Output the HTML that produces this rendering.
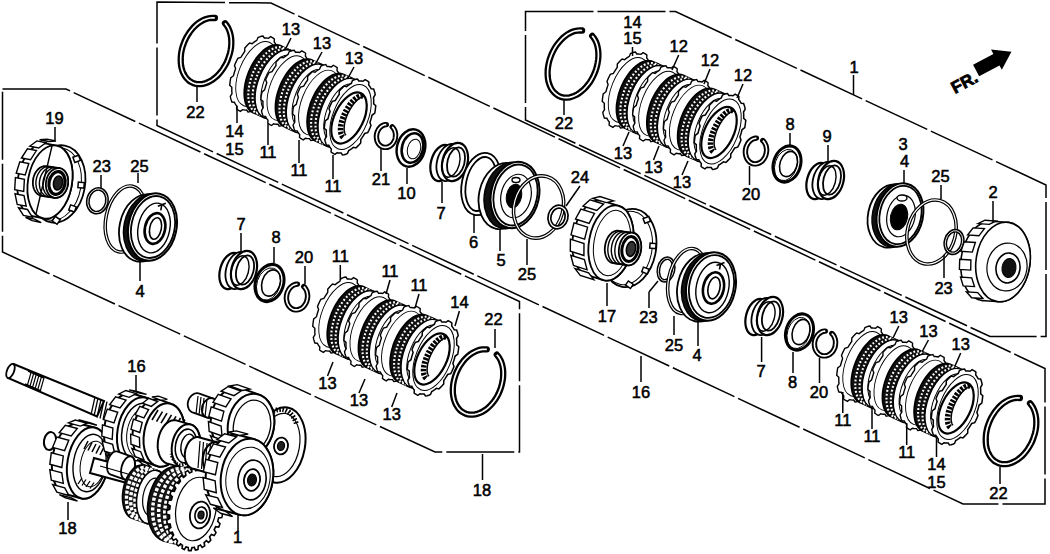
<!DOCTYPE html><html><head><meta charset="utf-8"><style>html,body{margin:0;padding:0;background:#fff;}svg{display:block;font-family:"Liberation Sans",sans-serif;}text{fill:#000;stroke:#000;stroke-width:0.55px;}</style></head><body>
<svg width="1050" height="554" viewBox="0 0 1050 554">
<rect width="1050" height="554" fill="#fff"/>
<polygon points="157.0,2.0 271.0,3.0 1045.0,368.5 1045.0,504.0 963.0,504.0 157.0,125.5" stroke="#000" stroke-width="1.5" fill="none" stroke-dasharray="68 4" stroke-linejoin="miter"/>
<polygon points="525.5,11.5 675.5,11.5 1046.0,185.0 1046.0,336.5 990.0,336.5 525.5,120.0" stroke="#000" stroke-width="1.5" fill="none" stroke-dasharray="68 4" stroke-linejoin="miter"/>
<polygon points="2.5,89.0 66.0,89.0 519.5,301.5 519.5,452.0 435.0,452.0 2.5,252.0" stroke="#000" stroke-width="1.5" fill="none" stroke-dasharray="68 4" stroke-linejoin="miter"/>
<path d="M225.0,23.3 L226.5,25.2 L227.9,27.3 L229.0,29.7 L229.9,32.2 L230.6,34.9 L231.1,37.8 L231.3,40.8 L231.3,43.9 L231.1,47.1 L230.6,50.3 L229.9,53.5 L228.9,56.6 L227.8,59.8 L226.5,62.8 L224.9,65.7 L223.2,68.5 L221.3,71.2 L219.3,73.6 L217.2,75.9 L214.9,77.9 L212.6,79.6 L210.2,81.1 L207.8,82.3 L205.3,83.2 L202.9,83.8 L200.5,84.1 L198.1,84.1 L195.9,83.8 L193.7,83.2 L191.6,82.3 L189.6,81.1 L187.9,79.6 L186.2,77.8 L184.8,75.8 L183.6,73.6 L182.5,71.2 L181.7,68.5 L181.1,65.7 L180.8,62.8 L180.7,59.7 L180.8,56.6 L181.1,53.4 L181.7,50.2 L182.5,47.0 L183.6,43.9 L184.8,40.8 L186.2,37.8 L187.9,34.9 L189.7,32.2 L191.6,29.7 L193.7,27.3 L195.9,25.2 L198.1,23.3 L200.5,21.7 L202.9,20.3 L205.4,19.2 L207.8,18.5 L210.2,18.0 L212.6,17.8 L214.9,18.0" stroke="#000" stroke-width="6.3" fill="none" stroke-linecap="round"/>
<path d="M225.0,23.3 L226.5,25.2 L227.9,27.3 L229.0,29.7 L229.9,32.2 L230.6,34.9 L231.1,37.8 L231.3,40.8 L231.3,43.9 L231.1,47.1 L230.6,50.3 L229.9,53.5 L228.9,56.6 L227.8,59.8 L226.5,62.8 L224.9,65.7 L223.2,68.5 L221.3,71.2 L219.3,73.6 L217.2,75.9 L214.9,77.9 L212.6,79.6 L210.2,81.1 L207.8,82.3 L205.3,83.2 L202.9,83.8 L200.5,84.1 L198.1,84.1 L195.9,83.8 L193.7,83.2 L191.6,82.3 L189.6,81.1 L187.9,79.6 L186.2,77.8 L184.8,75.8 L183.6,73.6 L182.5,71.2 L181.7,68.5 L181.1,65.7 L180.8,62.8 L180.7,59.7 L180.8,56.6 L181.1,53.4 L181.7,50.2 L182.5,47.0 L183.6,43.9 L184.8,40.8 L186.2,37.8 L187.9,34.9 L189.7,32.2 L191.6,29.7 L193.7,27.3 L195.9,25.2 L198.1,23.3 L200.5,21.7 L202.9,20.3 L205.4,19.2 L207.8,18.5 L210.2,18.0 L212.6,17.8 L214.9,18.0" stroke="#fff" stroke-width="1.7000000000000002" fill="none" />
<path d="M276.5,82.5 L275.5,84.9 L274.4,87.3 L273.2,89.6 L270.2,90.5 L268.9,92.6 L267.6,94.6 L266.3,96.5 L266.2,100.0 L264.6,101.8 L263.0,103.4 L261.4,105.0 L258.9,104.3 L257.3,105.6 L255.8,106.6 L254.2,107.6 L253.0,110.5 L251.3,111.2 L249.6,111.7 L248.0,112.0 L246.7,110.0 L245.2,110.1 L243.9,109.9 L242.5,109.7 L240.4,111.3 L239.1,110.6 L237.8,109.8 L236.6,108.9 L236.8,106.0 L235.9,104.9 L235.1,103.6 L234.3,102.2 L231.9,102.0 L231.3,100.3 L230.7,98.4 L230.3,96.4 L232.0,93.5 L231.8,91.5 L231.8,89.4 L231.8,87.2 L229.7,85.3 L230.0,82.9 L230.3,80.4 L230.7,77.9 L233.5,75.7 L234.1,73.3 L234.8,71.0 L235.6,68.6 L234.5,65.5 L235.5,63.1 L236.6,60.7 L237.8,58.4 L240.8,57.5 L242.1,55.4 L243.4,53.4 L244.7,51.5 L244.8,48.0 L246.4,46.2 L248.0,44.6 L249.6,43.0 L252.1,43.7 L253.7,42.4 L255.2,41.4 L256.8,40.4 L258.0,37.5 L259.7,36.8 L261.4,36.3 L263.0,36.0 L264.3,38.0 L265.8,37.9 L267.1,38.1 L268.5,38.3 L270.6,36.7 L271.9,37.4 L273.2,38.2 L274.4,39.1 L274.2,42.0 L275.1,43.1 L275.9,44.4 L276.7,45.8 L279.1,46.0 L279.7,47.7 L280.3,49.6 L280.7,51.6 L279.0,54.5 L279.2,56.5 L279.2,58.6 L279.2,60.8 L281.3,62.7 L281.0,65.1 L280.7,67.6 L280.3,70.1 L277.5,72.3 L276.9,74.7 L276.2,77.0 L275.4,79.4 L276.5,82.5Z" stroke="#000" stroke-width="1.4" fill="#fff" />
<ellipse cx="256.5" cy="74.0" rx="17.6" ry="34.2" transform="rotate(22 256.5 74.0)" stroke="#000" stroke-width="0.9" fill="#fff" />
<polygon points="244.3,92.4 244.4,89.6 244.8,86.7 245.2,83.8 245.9,80.8 246.7,77.8 247.7,74.8 248.8,71.9 250.0,69.0 251.4,66.2 252.9,63.5 254.5,60.9 256.2,58.4 258.0,56.1 259.8,54.0 261.7,52.1 263.6,50.3 265.6,48.8 267.6,47.6 269.5,46.5 271.5,45.7 273.4,45.2 275.2,44.9 277.0,44.9 278.7,45.2 280.4,45.7 282.2,46.5 285.8,48.2 291.2,50.6 292.8,51.4 294.2,52.4 295.4,53.7 296.6,55.1 297.6,56.9 298.4,58.8 299.1,60.9 299.7,63.1 300.0,65.6 300.2,68.2 300.3,70.9 300.1,73.7 299.8,76.6 299.3,79.5 298.6,82.5 297.8,85.5 296.9,88.5 295.8,91.4 294.5,94.3 293.1,97.1 291.6,99.8 290.1,102.4 288.4,104.9 286.6,107.2 284.7,109.3 282.9,111.2 280.9,112.9 278.9,114.4 277.0,115.7 275.0,116.7 273.1,117.5 271.2,118.0 269.3,118.3 267.5,118.3 265.8,118.1 264.2,117.6 255.1,113.5 253.3,112.6 251.8,111.9 250.4,110.9 249.1,109.6 248.0,108.1 246.9,106.4 246.1,104.5 245.4,102.4 244.9,100.1 244.5,97.7 244.3,95.1" stroke="#000" stroke-width="1.8" fill="#111" />
<ellipse cx="270.1" cy="80.6" rx="18.7" ry="35.3" transform="rotate(22 270.1 80.6)" stroke="#fff" stroke-width="2.1" fill="none" stroke-dasharray="1.8 2.0" stroke-dashoffset="0.0"/>
<ellipse cx="274.4" cy="82.6" rx="18.7" ry="35.3" transform="rotate(22 274.4 82.6)" stroke="#fff" stroke-width="2.1" fill="none" stroke-dasharray="1.8 2.0" stroke-dashoffset="1.7"/>
<ellipse cx="277.7" cy="84.1" rx="19.5" ry="36.1" transform="rotate(22 277.7 84.1)" stroke="#000" stroke-width="1.3" fill="#fff" />
<ellipse cx="278.7" cy="84.1" rx="14.8" ry="30.4" transform="rotate(22 278.7 84.1)" stroke="#000" stroke-width="1.0" fill="#fff" />
<path d="M307.7,96.7 L306.7,99.1 L305.6,101.5 L304.4,103.8 L301.4,104.7 L300.1,106.8 L298.8,108.8 L297.4,110.7 L297.4,114.2 L295.8,116.0 L294.2,117.6 L292.6,119.2 L290.1,118.5 L288.5,119.7 L287.0,120.8 L285.4,121.8 L284.2,124.7 L282.5,125.4 L280.8,125.9 L279.2,126.2 L277.9,124.2 L276.4,124.2 L275.1,124.1 L273.7,123.8 L271.6,125.5 L270.3,124.8 L269.0,124.0 L267.8,123.1 L268.0,120.2 L267.1,119.1 L266.3,117.8 L265.5,116.4 L263.1,116.2 L262.5,114.5 L261.9,112.6 L261.5,110.6 L263.2,107.7 L263.0,105.6 L262.9,103.5 L263.0,101.4 L260.9,99.5 L261.1,97.0 L261.5,94.6 L261.9,92.1 L264.6,89.9 L265.3,87.5 L266.0,85.2 L266.8,82.8 L265.6,79.7 L266.7,77.3 L267.8,74.9 L269.0,72.6 L272.0,71.7 L273.3,69.6 L274.6,67.6 L275.9,65.7 L276.0,62.2 L277.6,60.4 L279.2,58.8 L280.8,57.2 L283.3,57.8 L284.9,56.6 L286.4,55.6 L288.0,54.6 L289.2,51.7 L290.9,51.0 L292.5,50.5 L294.2,50.2 L295.5,52.2 L296.9,52.1 L298.3,52.3 L299.6,52.5 L301.7,50.9 L303.1,51.6 L304.4,52.3 L305.6,53.3 L305.4,56.1 L306.3,57.3 L307.1,58.6 L307.9,60.0 L310.3,60.2 L310.9,61.9 L311.4,63.8 L311.9,65.8 L310.2,68.7 L310.4,70.7 L310.4,72.8 L310.4,75.0 L312.4,76.9 L312.2,79.3 L311.9,81.8 L311.5,84.3 L308.7,86.5 L308.1,88.8 L307.4,91.2 L306.6,93.5 L307.7,96.7Z" stroke="#000" stroke-width="1.4" fill="#fff" />
<ellipse cx="287.7" cy="88.2" rx="17.6" ry="34.2" transform="rotate(22 287.7 88.2)" stroke="#000" stroke-width="0.9" fill="#fff" />
<polygon points="275.5,106.6 275.6,103.8 275.9,100.9 276.4,97.9 277.1,95.0 277.9,92.0 278.9,89.0 280.0,86.0 281.2,83.2 282.6,80.3 284.1,77.6 285.7,75.0 287.4,72.6 289.1,70.3 291.0,68.2 292.9,66.2 294.8,64.5 296.8,63.0 298.8,61.8 300.7,60.7 302.6,59.9 304.6,59.4 306.4,59.1 308.2,59.1 309.9,59.4 311.6,59.9 313.4,60.7 322.4,64.8 323.9,65.6 325.4,66.6 326.6,67.8 327.8,69.3 328.8,71.0 329.6,73.0 330.3,75.1 330.9,77.3 331.2,79.8 331.4,82.4 331.4,85.1 331.3,87.9 331.0,90.8 330.5,93.7 329.8,96.7 329.0,99.7 328.1,102.7 326.9,105.6 325.7,108.5 324.3,111.3 322.8,114.0 321.2,116.6 319.5,119.0 317.8,121.3 315.9,123.5 314.0,125.4 312.1,127.1 310.1,128.6 308.2,129.9 306.2,130.9 304.3,131.7 302.4,132.2 300.5,132.5 298.7,132.5 297.0,132.3 295.4,131.8 286.3,127.7 284.5,126.8 283.0,126.1 281.6,125.0 280.3,123.8 279.1,122.3 278.1,120.6 277.3,118.7 276.6,116.6 276.1,114.3 275.7,111.9 275.5,109.3" stroke="#000" stroke-width="1.8" fill="#111" />
<ellipse cx="301.3" cy="94.8" rx="18.7" ry="35.3" transform="rotate(22 301.3 94.8)" stroke="#fff" stroke-width="2.1" fill="none" stroke-dasharray="1.8 2.0" stroke-dashoffset="0.0"/>
<ellipse cx="305.6" cy="96.8" rx="18.7" ry="35.3" transform="rotate(22 305.6 96.8)" stroke="#fff" stroke-width="2.1" fill="none" stroke-dasharray="1.8 2.0" stroke-dashoffset="1.7"/>
<ellipse cx="308.9" cy="98.3" rx="19.5" ry="36.1" transform="rotate(22 308.9 98.3)" stroke="#000" stroke-width="1.3" fill="#fff" />
<ellipse cx="309.9" cy="98.3" rx="14.8" ry="30.4" transform="rotate(22 309.9 98.3)" stroke="#000" stroke-width="1.0" fill="#fff" />
<path d="M339.4,111.1 L338.4,113.5 L337.2,115.9 L336.0,118.2 L333.0,119.1 L331.8,121.2 L330.5,123.2 L329.1,125.1 L329.0,128.6 L327.5,130.4 L325.9,132.0 L324.2,133.6 L321.7,132.9 L320.2,134.1 L318.6,135.2 L317.1,136.2 L315.8,139.1 L314.1,139.8 L312.5,140.3 L310.8,140.6 L309.5,138.6 L308.1,138.6 L306.7,138.5 L305.4,138.3 L303.3,139.9 L301.9,139.2 L300.7,138.4 L299.5,137.5 L299.7,134.6 L298.8,133.5 L297.9,132.2 L297.2,130.8 L294.8,130.6 L294.1,128.9 L293.6,127.0 L293.1,125.0 L294.8,122.1 L294.7,120.1 L294.6,118.0 L294.6,115.8 L292.6,113.9 L292.8,111.5 L293.1,109.0 L293.6,106.5 L296.3,104.3 L296.9,101.9 L297.6,99.6 L298.4,97.2 L297.3,94.1 L298.3,91.7 L299.4,89.3 L300.6,87.0 L303.7,86.1 L304.9,84.0 L306.2,82.0 L307.6,80.1 L307.6,76.6 L309.2,74.8 L310.8,73.2 L312.4,71.6 L315.0,72.3 L316.5,71.0 L318.1,70.0 L319.6,69.0 L320.9,66.1 L322.5,65.4 L324.2,64.9 L325.8,64.6 L327.2,66.6 L328.6,66.5 L330.0,66.7 L331.3,66.9 L333.4,65.3 L334.7,66.0 L336.0,66.8 L337.2,67.7 L337.0,70.6 L337.9,71.7 L338.8,73.0 L339.5,74.4 L341.9,74.6 L342.6,76.3 L343.1,78.2 L343.5,80.2 L341.8,83.1 L342.0,85.1 L342.1,87.2 L342.1,89.4 L344.1,91.3 L343.9,93.7 L343.6,96.2 L343.1,98.7 L340.4,100.9 L339.8,103.3 L339.0,105.6 L338.2,108.0 L339.4,111.1Z" stroke="#000" stroke-width="1.4" fill="#fff" />
<ellipse cx="319.3" cy="102.6" rx="17.6" ry="34.2" transform="rotate(22 319.3 102.6)" stroke="#000" stroke-width="0.9" fill="#fff" />
<polygon points="307.1,121.0 307.3,118.2 307.6,115.3 308.1,112.3 308.7,109.4 309.6,106.4 310.5,103.4 311.6,100.5 312.9,97.6 314.2,94.8 315.7,92.0 317.3,89.5 319.0,87.0 320.8,84.7 322.6,82.6 324.5,80.7 326.5,78.9 328.4,77.4 330.4,76.2 332.4,75.1 334.3,74.3 336.2,73.8 338.1,73.5 339.9,73.5 341.6,73.8 343.2,74.3 352.3,78.4 354.1,79.2 355.6,80.0 357.0,81.0 358.3,82.3 359.4,83.7 360.4,85.5 361.3,87.4 362.0,89.5 362.5,91.8 362.9,94.2 363.1,96.8 363.1,99.5 362.9,102.3 362.6,105.2 362.1,108.1 361.5,111.1 360.7,114.1 359.7,117.0 358.6,120.0 357.4,122.9 356.0,125.7 354.5,128.4 352.9,131.0 351.2,133.5 349.4,135.8 347.6,137.9 345.7,139.8 343.8,141.5 341.8,143.0 339.8,144.3 337.9,145.3 335.9,146.1 334.0,146.7 332.2,146.9 330.4,146.9 328.6,146.7 327.0,146.2 325.2,145.3 321.6,143.7 316.2,141.2 314.6,140.5 313.2,139.4 311.9,138.2 310.8,136.7 309.8,135.0 308.9,133.1 308.2,131.0 307.7,128.7 307.4,126.3 307.2,123.7" stroke="#000" stroke-width="1.8" fill="#111" />
<ellipse cx="332.9" cy="109.2" rx="18.7" ry="35.3" transform="rotate(22 332.9 109.2)" stroke="#fff" stroke-width="2.1" fill="none" stroke-dasharray="1.8 2.0" stroke-dashoffset="0.0"/>
<ellipse cx="337.3" cy="111.2" rx="18.7" ry="35.3" transform="rotate(22 337.3 111.2)" stroke="#fff" stroke-width="2.1" fill="none" stroke-dasharray="1.8 2.0" stroke-dashoffset="1.7"/>
<ellipse cx="340.6" cy="112.7" rx="19.5" ry="36.1" transform="rotate(22 340.6 112.7)" stroke="#000" stroke-width="1.3" fill="#fff" />
<ellipse cx="341.6" cy="112.7" rx="14.8" ry="30.4" transform="rotate(22 341.6 112.7)" stroke="#000" stroke-width="1.0" fill="#fff" />
<path d="M371.0,125.5 L370.0,127.9 L368.9,130.3 L367.7,132.6 L364.7,133.5 L363.4,135.6 L362.1,137.6 L360.8,139.5 L360.7,143.0 L359.1,144.8 L357.5,146.4 L355.9,148.0 L353.4,147.3 L351.8,148.6 L350.3,149.6 L348.7,150.6 L347.5,153.5 L345.8,154.2 L344.1,154.7 L342.5,155.0 L341.2,153.0 L339.7,153.1 L338.4,152.9 L337.0,152.7 L334.9,154.3 L333.6,153.6 L332.3,152.8 L331.1,151.9 L331.3,149.0 L330.4,147.9 L329.6,146.6 L328.8,145.2 L326.4,145.0 L325.8,143.3 L325.2,141.4 L324.8,139.4 L326.5,136.5 L326.3,134.5 L326.3,132.4 L326.3,130.2 L324.2,128.3 L324.5,125.9 L324.8,123.4 L325.2,120.9 L328.0,118.7 L328.6,116.3 L329.3,114.0 L330.1,111.6 L329.0,108.5 L330.0,106.1 L331.1,103.7 L332.3,101.4 L335.3,100.5 L336.6,98.4 L337.9,96.4 L339.2,94.5 L339.3,91.0 L340.9,89.2 L342.5,87.6 L344.1,86.0 L346.6,86.7 L348.2,85.4 L349.7,84.4 L351.3,83.4 L352.5,80.5 L354.2,79.8 L355.9,79.3 L357.5,79.0 L358.8,81.0 L360.3,80.9 L361.6,81.1 L363.0,81.3 L365.1,79.7 L366.4,80.4 L367.7,81.2 L368.9,82.1 L368.7,85.0 L369.6,86.1 L370.4,87.4 L371.2,88.8 L373.6,89.0 L374.2,90.7 L374.8,92.6 L375.2,94.6 L373.5,97.5 L373.7,99.5 L373.7,101.6 L373.7,103.8 L375.8,105.7 L375.5,108.1 L375.2,110.6 L374.8,113.1 L372.0,115.3 L371.4,117.7 L370.7,120.0 L369.9,122.4 L371.0,125.5Z" stroke="#000" stroke-width="1.5" fill="#fff" />
<ellipse cx="350.5" cy="117.0" rx="17.6" ry="34.2" transform="rotate(22 350.5 117.0)" stroke="#000" stroke-width="1.0" fill="none" />
<ellipse cx="349.0" cy="118.0" rx="14.5" ry="27.5" transform="rotate(26 349.0 118.0)" stroke="#000" stroke-width="2.2" fill="#fff" />
<path d="M343.2,137.2 L342.6,136.7 L342.1,136.1 L341.7,135.4 L341.3,134.5 L341.0,133.6 L340.8,132.6 L340.6,131.5 L340.5,130.3 L340.5,129.1 L340.6,127.7 L340.7,126.4 L340.9,124.9 L341.2,123.5 L341.5,121.9 L342.0,120.4 L342.5,118.9 L343.0,117.3 L343.6,115.7 L344.3,114.2 L345.0,112.6 L345.8,111.1 L346.6,109.6 L347.5,108.2 L348.4,106.8 L349.3,105.4 L350.2,104.1 L351.2,102.9 L352.2,101.8 L353.2,100.8 L354.2,99.8 L355.2,98.9 L356.2,98.2 L357.2,97.5 L358.1,97.0 L359.1,96.5 L360.0,96.2 L360.9,96.0 L361.7,95.9 L362.5,95.9 L363.3,96.0" stroke="#000" stroke-width="5.5" fill="none" stroke-dasharray="2.5 1.3"/>
<path d="M346.0,135.2 L345.6,134.7 L345.2,134.0 L344.9,133.3 L344.6,132.4 L344.4,131.5 L344.2,130.6 L344.1,129.5 L344.1,128.4 L344.2,127.2 L344.3,126.0 L344.4,124.8 L344.6,123.4 L344.9,122.1 L345.3,120.7 L345.7,119.3 L346.1,117.9 L346.6,116.5 L347.2,115.1 L347.8,113.7 L348.5,112.3 L349.2,111.0 L349.9,109.6 L350.7,108.3 L351.5,107.0 L352.3,105.8 L353.1,104.7 L354.0,103.5 L354.9,102.5 L355.8,101.5 L356.7,100.6 L357.6,99.8 L358.5,99.0 L359.3,98.4 L360.2,97.8 L361.1,97.3 L361.9,96.9 L362.7,96.6 L363.5,96.4 L364.3,96.3 L365.0,96.3" stroke="#000" stroke-width="1.5" fill="none" />
<path d="M392.2,126.8 L392.8,127.4 L393.4,128.2 L393.9,129.0 L394.4,129.9 L394.8,130.8 L395.1,131.8 L395.3,132.8 L395.5,133.9 L395.6,134.9 L395.5,136.0 L395.4,137.1 L395.3,138.1 L395.0,139.2 L394.7,140.2 L394.2,141.2 L393.7,142.1 L393.2,143.0 L392.6,143.8 L391.9,144.5 L391.2,145.2 L390.4,145.8 L389.6,146.3 L388.7,146.7 L387.9,147.1 L387.0,147.3 L386.1,147.4 L385.2,147.4 L384.3,147.4 L383.4,147.2 L382.6,146.9 L381.7,146.6 L381.0,146.1 L380.2,145.6 L379.5,144.9 L378.9,144.2 L378.3,143.4 L377.8,142.6 L377.4,141.7 L377.0,140.7 L376.8,139.7 L376.6,138.7 L376.5,137.7 L376.4,136.6 L376.5,135.5 L376.6,134.4 L376.8,133.4 L377.1,132.4 L377.5,131.4 L378.0,130.4 L378.5,129.5 L379.1,128.6 L379.7,127.9 L380.4,127.1 L381.2,126.5 L382.0,125.9 L382.8,125.5 L383.7,125.1 L384.6,124.8 L385.4,124.6 L386.3,124.6" stroke="#000" stroke-width="5.4" fill="none" stroke-linecap="round"/>
<path d="M392.2,126.8 L392.8,127.4 L393.4,128.2 L393.9,129.0 L394.4,129.9 L394.8,130.8 L395.1,131.8 L395.3,132.8 L395.5,133.9 L395.6,134.9 L395.5,136.0 L395.4,137.1 L395.3,138.1 L395.0,139.2 L394.7,140.2 L394.2,141.2 L393.7,142.1 L393.2,143.0 L392.6,143.8 L391.9,144.5 L391.2,145.2 L390.4,145.8 L389.6,146.3 L388.7,146.7 L387.9,147.1 L387.0,147.3 L386.1,147.4 L385.2,147.4 L384.3,147.4 L383.4,147.2 L382.6,146.9 L381.7,146.6 L381.0,146.1 L380.2,145.6 L379.5,144.9 L378.9,144.2 L378.3,143.4 L377.8,142.6 L377.4,141.7 L377.0,140.7 L376.8,139.7 L376.6,138.7 L376.5,137.7 L376.4,136.6 L376.5,135.5 L376.6,134.4 L376.8,133.4 L377.1,132.4 L377.5,131.4 L378.0,130.4 L378.5,129.5 L379.1,128.6 L379.7,127.9 L380.4,127.1 L381.2,126.5 L382.0,125.9 L382.8,125.5 L383.7,125.1 L384.6,124.8 L385.4,124.6 L386.3,124.6" stroke="#fff" stroke-width="1.6000000000000005" fill="none" />
<ellipse cx="411.0" cy="148.0" rx="14.0" ry="19.0" transform="rotate(15 411.0 148.0)" stroke="#000" stroke-width="2.4" fill="#fff" />
<ellipse cx="412.5" cy="148.0" rx="10.5" ry="15.0" transform="rotate(15 412.5 148.0)" stroke="#000" stroke-width="2.6" fill="none" />
<ellipse cx="414.0" cy="149.0" rx="6.5" ry="10.0" transform="rotate(15 414.0 149.0)" stroke="#000" stroke-width="1.0" fill="none" />
<ellipse cx="442.0" cy="163.0" rx="11.0" ry="18.5" transform="rotate(15 442.0 163.0)" stroke="#000" stroke-width="2.2" fill="#fff" />
<ellipse cx="449.0" cy="162.5" rx="12.0" ry="19.0" transform="rotate(15 449.0 162.5)" stroke="#000" stroke-width="1.8" fill="#fff" />
<ellipse cx="455.0" cy="162.0" rx="12.5" ry="19.5" transform="rotate(15 455.0 162.0)" stroke="#000" stroke-width="2.2" fill="#fff" />
<ellipse cx="456.0" cy="162.0" rx="8.5" ry="15.0" transform="rotate(15 456.0 162.0)" stroke="#000" stroke-width="1.8" fill="none" />
<ellipse cx="451.0" cy="162.5" rx="8.5" ry="15.0" transform="rotate(15 451.0 162.5)" stroke="#000" stroke-width="1.4" fill="none" />
<ellipse cx="481.0" cy="184.0" rx="17.0" ry="29.5" transform="rotate(12 481.0 184.0)" stroke="#000" stroke-width="6.0" fill="none" />
<ellipse cx="481.0" cy="184.0" rx="17.0" ry="29.5" transform="rotate(12 481.0 184.0)" stroke="#fff" stroke-width="2.4" fill="none" />
<ellipse cx="503.0" cy="196.0" rx="24.0" ry="33.5" transform="rotate(12 503.0 196.0)" stroke="#000" stroke-width="1.8" fill="#fff" />
<ellipse cx="508.5" cy="195.5" rx="24.0" ry="33.5" transform="rotate(12 508.5 195.5)" stroke="#000" stroke-width="1.5" fill="#111" />
<ellipse cx="515.0" cy="195.0" rx="24.0" ry="33.5" transform="rotate(12 515.0 195.0)" stroke="#000" stroke-width="2.0" fill="#fff" />
<ellipse cx="515.5" cy="195.0" rx="21.6" ry="30.8" transform="rotate(12 515.5 195.0)" stroke="#000" stroke-width="1.8" fill="none" />
<ellipse cx="516.0" cy="196.0" rx="15.0" ry="22.0" transform="rotate(12 516.0 196.0)" stroke="#000" stroke-width="1.2" fill="none" />
<ellipse cx="514.0" cy="196.0" rx="7.5" ry="12.0" transform="rotate(12 514.0 196.0)" stroke="#000" stroke-width="1" fill="#000" />
<ellipse cx="516.0" cy="180.0" rx="4.0" ry="2.5" transform="rotate(0 516.0 180.0)" stroke="#000" stroke-width="1.4" fill="#fff" />
<ellipse cx="538.6" cy="207.0" rx="24.5" ry="31.5" transform="rotate(15 538.6 207.0)" stroke="#000" stroke-width="3.6" fill="none" />
<ellipse cx="538.6" cy="207.0" rx="24.5" ry="31.5" transform="rotate(15 538.6 207.0)" stroke="#fff" stroke-width="1.2" fill="none" />
<ellipse cx="558.0" cy="217.0" rx="8.5" ry="10.5" transform="rotate(15 558.0 217.0)" stroke="#000" stroke-width="4.6" fill="none" />
<ellipse cx="558.0" cy="217.0" rx="8.5" ry="10.5" transform="rotate(15 558.0 217.0)" stroke="#fff" stroke-width="1.2" fill="none" />
<path d="M592.2,35.9 L593.7,37.8 L595.0,39.9 L596.2,42.3 L597.1,44.9 L597.7,47.6 L598.2,50.5 L598.4,53.6 L598.4,56.7 L598.1,59.9 L597.6,63.1 L596.9,66.4 L596.0,69.6 L594.8,72.8 L593.4,75.9 L591.9,78.8 L590.2,81.7 L588.3,84.3 L586.2,86.8 L584.1,89.1 L581.8,91.1 L579.5,92.9 L577.1,94.5 L574.6,95.7 L572.2,96.6 L569.7,97.3 L567.3,97.6 L565.0,97.6 L562.7,97.3 L560.5,96.7 L558.4,95.8 L556.5,94.5 L554.7,93.0 L553.1,91.3 L551.6,89.3 L550.4,87.0 L549.4,84.5 L548.6,81.9 L548.0,79.0 L547.7,76.1 L547.6,73.0 L547.7,69.8 L548.1,66.6 L548.7,63.3 L549.5,60.1 L550.6,56.9 L551.8,53.8 L553.3,50.7 L554.9,47.8 L556.7,45.0 L558.7,42.5 L560.8,40.1 L563.0,37.9 L565.3,36.0 L567.6,34.3 L570.1,32.9 L572.5,31.8 L575.0,31.0 L577.4,30.6 L579.8,30.4 L582.1,30.5" stroke="#000" stroke-width="6.3" fill="none" stroke-linecap="round"/>
<path d="M592.2,35.9 L593.7,37.8 L595.0,39.9 L596.2,42.3 L597.1,44.9 L597.7,47.6 L598.2,50.5 L598.4,53.6 L598.4,56.7 L598.1,59.9 L597.6,63.1 L596.9,66.4 L596.0,69.6 L594.8,72.8 L593.4,75.9 L591.9,78.8 L590.2,81.7 L588.3,84.3 L586.2,86.8 L584.1,89.1 L581.8,91.1 L579.5,92.9 L577.1,94.5 L574.6,95.7 L572.2,96.6 L569.7,97.3 L567.3,97.6 L565.0,97.6 L562.7,97.3 L560.5,96.7 L558.4,95.8 L556.5,94.5 L554.7,93.0 L553.1,91.3 L551.6,89.3 L550.4,87.0 L549.4,84.5 L548.6,81.9 L548.0,79.0 L547.7,76.1 L547.6,73.0 L547.7,69.8 L548.1,66.6 L548.7,63.3 L549.5,60.1 L550.6,56.9 L551.8,53.8 L553.3,50.7 L554.9,47.8 L556.7,45.0 L558.7,42.5 L560.8,40.1 L563.0,37.9 L565.3,36.0 L567.6,34.3 L570.1,32.9 L572.5,31.8 L575.0,31.0 L577.4,30.6 L579.8,30.4 L582.1,30.5" stroke="#fff" stroke-width="1.7000000000000002" fill="none" />
<path d="M649.0,98.5 L648.0,100.9 L646.9,103.3 L645.7,105.6 L642.7,106.5 L641.4,108.6 L640.1,110.6 L638.8,112.5 L638.7,116.0 L637.1,117.8 L635.5,119.4 L633.9,121.0 L631.4,120.3 L629.8,121.6 L628.3,122.6 L626.7,123.6 L625.5,126.5 L623.8,127.2 L622.1,127.7 L620.5,128.0 L619.2,126.0 L617.7,126.1 L616.4,125.9 L615.0,125.7 L612.9,127.3 L611.6,126.6 L610.3,125.8 L609.1,124.9 L609.3,122.0 L608.4,120.9 L607.6,119.6 L606.8,118.2 L604.4,118.0 L603.8,116.3 L603.2,114.4 L602.8,112.4 L604.5,109.5 L604.3,107.5 L604.3,105.4 L604.3,103.2 L602.2,101.3 L602.5,98.9 L602.8,96.4 L603.2,93.9 L606.0,91.7 L606.6,89.3 L607.3,87.0 L608.1,84.6 L607.0,81.5 L608.0,79.1 L609.1,76.7 L610.3,74.4 L613.3,73.5 L614.6,71.4 L615.9,69.4 L617.2,67.5 L617.3,64.0 L618.9,62.2 L620.5,60.6 L622.1,59.0 L624.6,59.7 L626.2,58.4 L627.7,57.4 L629.3,56.4 L630.5,53.5 L632.2,52.8 L633.9,52.3 L635.5,52.0 L636.8,54.0 L638.3,53.9 L639.6,54.1 L641.0,54.3 L643.1,52.7 L644.4,53.4 L645.7,54.2 L646.9,55.1 L646.7,58.0 L647.6,59.1 L648.4,60.4 L649.2,61.8 L651.6,62.0 L652.2,63.7 L652.8,65.6 L653.2,67.6 L651.5,70.5 L651.7,72.5 L651.7,74.6 L651.7,76.8 L653.8,78.7 L653.5,81.1 L653.2,83.6 L652.8,86.1 L650.0,88.3 L649.4,90.7 L648.7,93.0 L647.9,95.4 L649.0,98.5Z" stroke="#000" stroke-width="1.4" fill="#fff" />
<ellipse cx="629.0" cy="90.0" rx="17.6" ry="34.2" transform="rotate(22 629.0 90.0)" stroke="#000" stroke-width="0.9" fill="#fff" />
<polygon points="616.5,108.2 616.6,105.4 617.0,102.5 617.5,99.6 618.1,96.6 618.9,93.6 619.9,90.6 621.0,87.7 622.2,84.8 623.6,82.0 625.1,79.3 626.7,76.7 628.4,74.2 630.2,71.9 632.0,69.8 633.9,67.9 635.8,66.2 637.8,64.7 639.8,63.4 641.7,62.4 643.7,61.6 645.6,61.0 647.4,60.8 649.2,60.8 650.9,61.0 652.6,61.5 654.3,62.3 657.9,63.9 663.1,66.3 664.7,67.0 666.1,68.1 667.4,69.3 668.5,70.8 669.5,72.5 670.4,74.4 671.0,76.5 671.6,78.8 672.0,81.2 672.1,83.8 672.2,86.5 672.0,89.3 671.7,92.2 671.2,95.2 670.6,98.1 669.8,101.1 668.8,104.1 667.7,107.0 666.4,109.9 665.0,112.8 663.6,115.5 662.0,118.1 660.3,120.5 658.5,122.8 656.6,124.9 654.8,126.9 652.8,128.6 650.9,130.1 648.9,131.4 646.9,132.4 645.0,133.2 643.1,133.7 641.2,134.0 639.4,134.0 637.7,133.7 636.1,133.2 634.3,132.4 627.3,129.2 625.5,128.4 624.0,127.7 622.6,126.7 621.3,125.4 620.2,123.9 619.1,122.2 618.3,120.3 617.6,118.2 617.1,115.9 616.7,113.5 616.5,110.9" stroke="#000" stroke-width="1.8" fill="#111" />
<ellipse cx="642.2" cy="96.4" rx="18.7" ry="35.3" transform="rotate(22 642.2 96.4)" stroke="#fff" stroke-width="2.1" fill="none" stroke-dasharray="1.8 2.0" stroke-dashoffset="0.0"/>
<ellipse cx="646.4" cy="98.3" rx="18.7" ry="35.3" transform="rotate(22 646.4 98.3)" stroke="#fff" stroke-width="2.1" fill="none" stroke-dasharray="1.8 2.0" stroke-dashoffset="1.7"/>
<ellipse cx="649.6" cy="99.8" rx="19.5" ry="36.1" transform="rotate(22 649.6 99.8)" stroke="#000" stroke-width="1.3" fill="#fff" />
<ellipse cx="650.6" cy="99.8" rx="14.8" ry="30.4" transform="rotate(22 650.6 99.8)" stroke="#000" stroke-width="1.0" fill="#fff" />
<path d="M679.4,112.2 L678.4,114.6 L677.3,117.0 L676.1,119.3 L673.0,120.2 L671.8,122.3 L670.5,124.3 L669.1,126.2 L669.1,129.7 L667.5,131.5 L665.9,133.1 L664.3,134.7 L661.7,134.0 L660.2,135.2 L658.6,136.3 L657.1,137.3 L655.8,140.2 L654.2,140.9 L652.5,141.4 L650.9,141.7 L649.5,139.7 L648.1,139.7 L646.7,139.6 L645.4,139.4 L643.3,141.0 L642.0,140.3 L640.7,139.5 L639.5,138.6 L639.7,135.7 L638.8,134.6 L637.9,133.3 L637.2,131.9 L634.8,131.7 L634.1,130.0 L633.6,128.1 L633.2,126.1 L634.9,123.2 L634.7,121.2 L634.6,119.1 L634.6,116.9 L632.6,115.0 L632.8,112.6 L633.2,110.1 L633.6,107.6 L636.3,105.4 L636.9,103.0 L637.7,100.7 L638.5,98.3 L637.3,95.2 L638.3,92.8 L639.5,90.4 L640.7,88.1 L643.7,87.2 L644.9,85.1 L646.2,83.1 L647.6,81.2 L647.7,77.7 L649.2,75.9 L650.8,74.3 L652.5,72.7 L655.0,73.4 L656.5,72.1 L658.1,71.1 L659.6,70.1 L660.9,67.2 L662.6,66.5 L664.2,66.0 L665.9,65.7 L667.2,67.7 L668.6,67.6 L670.0,67.8 L671.3,68.0 L673.4,66.4 L674.8,67.1 L676.0,67.9 L677.2,68.8 L677.0,71.7 L677.9,72.8 L678.8,74.1 L679.5,75.5 L681.9,75.7 L682.6,77.4 L683.1,79.3 L683.6,81.3 L681.9,84.2 L682.0,86.2 L682.1,88.3 L682.1,90.5 L684.1,92.4 L683.9,94.8 L683.6,97.3 L683.1,99.8 L680.4,102.0 L679.8,104.4 L679.1,106.7 L678.3,109.1 L679.4,112.2Z" stroke="#000" stroke-width="1.4" fill="#fff" />
<ellipse cx="659.4" cy="103.7" rx="17.6" ry="34.2" transform="rotate(22 659.4 103.7)" stroke="#000" stroke-width="0.9" fill="#fff" />
<polygon points="646.9,121.9 647.0,119.1 647.3,116.2 647.8,113.3 648.5,110.3 649.3,107.3 650.2,104.3 651.3,101.4 652.6,98.5 654.0,95.7 655.5,93.0 657.1,90.4 658.8,87.9 660.5,85.6 662.4,83.5 664.3,81.6 666.2,79.8 668.1,78.3 670.1,77.1 672.1,76.0 674.0,75.3 675.9,74.7 677.8,74.5 679.6,74.5 681.3,74.7 682.9,75.2 686.5,76.8 691.7,79.2 693.5,80.0 695.0,80.7 696.4,81.8 697.7,83.0 698.9,84.5 699.9,86.2 700.7,88.1 701.4,90.2 702.0,92.5 702.3,94.9 702.5,97.5 702.5,100.2 702.4,103.0 702.1,105.9 701.6,108.9 700.9,111.8 700.1,114.8 699.1,117.8 698.0,120.7 696.8,123.6 695.4,126.4 693.9,129.2 692.3,131.8 690.6,134.2 688.9,136.5 687.0,138.6 685.1,140.6 683.2,142.3 681.2,143.8 679.3,145.1 677.3,146.1 675.4,146.9 673.5,147.4 671.6,147.7 669.8,147.7 668.1,147.4 666.5,146.9 662.9,145.3 659.4,143.7 655.9,142.2 654.4,141.4 653.0,140.4 651.7,139.1 650.5,137.6 649.5,135.9 648.7,134.0 648.0,131.9 647.4,129.6 647.1,127.2 646.9,124.6" stroke="#000" stroke-width="1.8" fill="#111" />
<ellipse cx="672.6" cy="110.1" rx="18.7" ry="35.3" transform="rotate(22 672.6 110.1)" stroke="#fff" stroke-width="2.1" fill="none" stroke-dasharray="1.8 2.0" stroke-dashoffset="0.0"/>
<ellipse cx="676.8" cy="112.0" rx="18.7" ry="35.3" transform="rotate(22 676.8 112.0)" stroke="#fff" stroke-width="2.1" fill="none" stroke-dasharray="1.8 2.0" stroke-dashoffset="1.7"/>
<ellipse cx="680.0" cy="113.4" rx="19.5" ry="36.1" transform="rotate(22 680.0 113.4)" stroke="#000" stroke-width="1.3" fill="#fff" />
<ellipse cx="681.0" cy="113.4" rx="14.8" ry="30.4" transform="rotate(22 681.0 113.4)" stroke="#000" stroke-width="1.0" fill="#fff" />
<path d="M710.2,126.1 L709.2,128.5 L708.1,130.9 L706.9,133.2 L703.9,134.1 L702.6,136.2 L701.3,138.2 L699.9,140.1 L699.9,143.6 L698.3,145.4 L696.7,147.0 L695.1,148.6 L692.6,147.9 L691.0,149.2 L689.5,150.2 L687.9,151.2 L686.7,154.1 L685.0,154.8 L683.3,155.3 L681.7,155.6 L680.3,153.6 L678.9,153.7 L677.5,153.5 L676.2,153.3 L674.1,154.9 L672.8,154.2 L671.5,153.4 L670.3,152.5 L670.5,149.6 L669.6,148.5 L668.8,147.2 L668.0,145.8 L665.6,145.6 L665.0,143.9 L664.4,142.0 L664.0,140.0 L665.7,137.1 L665.5,135.1 L665.4,133.0 L665.5,130.8 L663.4,128.9 L663.6,126.5 L664.0,124.0 L664.4,121.5 L667.1,119.3 L667.8,116.9 L668.5,114.6 L669.3,112.2 L668.1,109.1 L669.2,106.7 L670.3,104.3 L671.5,102.0 L674.5,101.1 L675.8,99.0 L677.1,97.0 L678.4,95.1 L678.5,91.6 L680.0,89.8 L681.6,88.2 L683.3,86.6 L685.8,87.3 L687.4,86.0 L688.9,85.0 L690.5,84.0 L691.7,81.1 L693.4,80.4 L695.0,79.9 L696.7,79.6 L698.0,81.6 L699.4,81.5 L700.8,81.7 L702.1,81.9 L704.2,80.3 L705.6,81.0 L706.9,81.8 L708.1,82.7 L707.8,85.6 L708.8,86.7 L709.6,88.0 L710.4,89.4 L712.7,89.6 L713.4,91.3 L713.9,93.2 L714.4,95.2 L712.7,98.1 L712.9,100.1 L712.9,102.2 L712.9,104.4 L714.9,106.3 L714.7,108.7 L714.4,111.2 L714.0,113.7 L711.2,115.9 L710.6,118.3 L709.9,120.6 L709.1,123.0 L710.2,126.1Z" stroke="#000" stroke-width="1.4" fill="#fff" />
<ellipse cx="690.2" cy="117.6" rx="17.6" ry="34.2" transform="rotate(22 690.2 117.6)" stroke="#000" stroke-width="0.9" fill="#fff" />
<polygon points="677.7,135.8 677.8,133.0 678.1,130.1 678.6,127.2 679.3,124.2 680.1,121.2 681.0,118.2 682.2,115.3 683.4,112.4 684.8,109.6 686.3,106.9 687.9,104.3 689.6,101.8 691.3,99.5 693.2,97.4 695.1,95.5 697.0,93.8 699.0,92.2 700.9,91.0 702.9,89.9 704.9,89.2 706.8,88.6 708.6,88.4 710.4,88.3 712.1,88.6 713.7,89.1 715.5,89.9 722.6,93.1 724.3,93.9 725.9,94.6 727.2,95.7 728.5,96.9 729.7,98.4 730.7,100.1 731.5,102.0 732.2,104.1 732.8,106.4 733.1,108.8 733.3,111.4 733.4,114.1 733.2,116.9 732.9,119.8 732.4,122.8 731.7,125.7 730.9,128.7 730.0,131.7 728.9,134.7 727.6,137.5 726.2,140.3 724.7,143.1 723.1,145.7 721.5,148.1 719.7,150.4 717.8,152.5 715.9,154.4 714.0,156.2 712.0,157.7 710.1,158.9 708.1,160.0 706.2,160.8 704.3,161.3 702.4,161.6 700.6,161.6 698.9,161.3 697.3,160.8 695.5,160.0 692.0,158.4 686.7,156.1 685.2,155.3 683.8,154.3 682.5,153.0 681.3,151.5 680.3,149.8 679.5,147.9 678.8,145.8 678.2,143.5 677.9,141.1 677.7,138.5" stroke="#000" stroke-width="1.8" fill="#111" />
<ellipse cx="703.4" cy="124.0" rx="18.7" ry="35.3" transform="rotate(22 703.4 124.0)" stroke="#fff" stroke-width="2.1" fill="none" stroke-dasharray="1.8 2.0" stroke-dashoffset="0.0"/>
<ellipse cx="707.6" cy="125.9" rx="18.7" ry="35.3" transform="rotate(22 707.6 125.9)" stroke="#fff" stroke-width="2.1" fill="none" stroke-dasharray="1.8 2.0" stroke-dashoffset="1.7"/>
<ellipse cx="710.8" cy="127.3" rx="19.5" ry="36.1" transform="rotate(22 710.8 127.3)" stroke="#000" stroke-width="1.3" fill="#fff" />
<ellipse cx="711.8" cy="127.3" rx="14.8" ry="30.4" transform="rotate(22 711.8 127.3)" stroke="#000" stroke-width="1.0" fill="#fff" />
<path d="M741.0,140.0 L740.0,142.4 L738.9,144.8 L737.7,147.1 L734.7,148.0 L733.4,150.1 L732.1,152.1 L730.8,154.0 L730.7,157.5 L729.1,159.3 L727.5,160.9 L725.9,162.5 L723.4,161.8 L721.8,163.1 L720.3,164.1 L718.7,165.1 L717.5,168.0 L715.8,168.7 L714.1,169.2 L712.5,169.5 L711.2,167.5 L709.7,167.6 L708.4,167.4 L707.0,167.2 L704.9,168.8 L703.6,168.1 L702.3,167.3 L701.1,166.4 L701.3,163.5 L700.4,162.4 L699.6,161.1 L698.8,159.7 L696.4,159.5 L695.8,157.8 L695.2,155.9 L694.8,153.9 L696.5,151.0 L696.3,149.0 L696.3,146.9 L696.3,144.7 L694.2,142.8 L694.5,140.4 L694.8,137.9 L695.2,135.4 L698.0,133.2 L698.6,130.8 L699.3,128.5 L700.1,126.1 L699.0,123.0 L700.0,120.6 L701.1,118.2 L702.3,115.9 L705.3,115.0 L706.6,112.9 L707.9,110.9 L709.2,109.0 L709.3,105.5 L710.9,103.7 L712.5,102.1 L714.1,100.5 L716.6,101.2 L718.2,99.9 L719.7,98.9 L721.3,97.9 L722.5,95.0 L724.2,94.3 L725.9,93.8 L727.5,93.5 L728.8,95.5 L730.3,95.4 L731.6,95.6 L733.0,95.8 L735.1,94.2 L736.4,94.9 L737.7,95.7 L738.9,96.6 L738.7,99.5 L739.6,100.6 L740.4,101.9 L741.2,103.3 L743.6,103.5 L744.2,105.2 L744.8,107.1 L745.2,109.1 L743.5,112.0 L743.7,114.0 L743.7,116.1 L743.7,118.3 L745.8,120.2 L745.5,122.6 L745.2,125.1 L744.8,127.6 L742.0,129.8 L741.4,132.2 L740.7,134.5 L739.9,136.9 L741.0,140.0Z" stroke="#000" stroke-width="1.5" fill="#fff" />
<ellipse cx="720.5" cy="131.5" rx="17.6" ry="34.2" transform="rotate(22 720.5 131.5)" stroke="#000" stroke-width="1.0" fill="none" />
<ellipse cx="719.0" cy="132.5" rx="14.5" ry="27.5" transform="rotate(26 719.0 132.5)" stroke="#000" stroke-width="2.2" fill="#fff" />
<path d="M713.2,151.7 L712.6,151.2 L712.1,150.6 L711.7,149.9 L711.3,149.0 L711.0,148.1 L710.8,147.1 L710.6,146.0 L710.5,144.8 L710.5,143.6 L710.6,142.2 L710.7,140.9 L710.9,139.4 L711.2,138.0 L711.5,136.4 L712.0,134.9 L712.5,133.4 L713.0,131.8 L713.6,130.2 L714.3,128.7 L715.0,127.1 L715.8,125.6 L716.6,124.1 L717.5,122.7 L718.4,121.3 L719.3,119.9 L720.2,118.6 L721.2,117.4 L722.2,116.3 L723.2,115.3 L724.2,114.3 L725.2,113.4 L726.2,112.7 L727.2,112.0 L728.1,111.5 L729.1,111.0 L730.0,110.7 L730.9,110.5 L731.7,110.4 L732.5,110.4 L733.3,110.5" stroke="#000" stroke-width="5.5" fill="none" stroke-dasharray="2.5 1.3"/>
<path d="M716.0,149.7 L715.6,149.2 L715.2,148.5 L714.9,147.8 L714.6,146.9 L714.4,146.0 L714.2,145.1 L714.1,144.0 L714.1,142.9 L714.2,141.7 L714.3,140.5 L714.4,139.3 L714.6,137.9 L714.9,136.6 L715.3,135.2 L715.7,133.8 L716.1,132.4 L716.6,131.0 L717.2,129.6 L717.8,128.2 L718.5,126.8 L719.2,125.5 L719.9,124.1 L720.7,122.8 L721.5,121.5 L722.3,120.3 L723.1,119.2 L724.0,118.0 L724.9,117.0 L725.8,116.0 L726.7,115.1 L727.6,114.3 L728.5,113.5 L729.3,112.9 L730.2,112.3 L731.1,111.8 L731.9,111.4 L732.7,111.1 L733.5,110.9 L734.3,110.8 L735.0,110.8" stroke="#000" stroke-width="1.5" fill="none" />
<path d="M762.8,140.6 L763.6,141.3 L764.2,142.2 L764.8,143.1 L765.3,144.1 L765.8,145.1 L766.1,146.2 L766.3,147.4 L766.5,148.5 L766.6,149.7 L766.6,150.9 L766.4,152.2 L766.2,153.4 L765.9,154.5 L765.6,155.7 L765.1,156.8 L764.5,157.8 L763.9,158.8 L763.2,159.8 L762.5,160.6 L761.7,161.4 L760.8,162.1 L759.9,162.6 L759.0,163.1 L758.0,163.5 L757.0,163.7 L756.0,163.9 L755.0,163.9 L754.1,163.9 L753.1,163.7 L752.2,163.4 L751.2,162.9 L750.4,162.4 L749.6,161.8 L748.8,161.1 L748.1,160.3 L747.5,159.4 L746.9,158.5 L746.5,157.5 L746.1,156.4 L745.8,155.3 L745.6,154.1 L745.4,152.9 L745.4,151.7 L745.5,150.5 L745.6,149.3 L745.9,148.1 L746.2,146.9 L746.6,145.8 L747.2,144.7 L747.7,143.7 L748.4,142.7 L749.1,141.8 L749.9,141.0 L750.7,140.3 L751.6,139.7 L752.5,139.1 L753.5,138.7 L754.5,138.4 L755.4,138.2 L756.4,138.1" stroke="#000" stroke-width="5.4" fill="none" stroke-linecap="round"/>
<path d="M762.8,140.6 L763.6,141.3 L764.2,142.2 L764.8,143.1 L765.3,144.1 L765.8,145.1 L766.1,146.2 L766.3,147.4 L766.5,148.5 L766.6,149.7 L766.6,150.9 L766.4,152.2 L766.2,153.4 L765.9,154.5 L765.6,155.7 L765.1,156.8 L764.5,157.8 L763.9,158.8 L763.2,159.8 L762.5,160.6 L761.7,161.4 L760.8,162.1 L759.9,162.6 L759.0,163.1 L758.0,163.5 L757.0,163.7 L756.0,163.9 L755.0,163.9 L754.1,163.9 L753.1,163.7 L752.2,163.4 L751.2,162.9 L750.4,162.4 L749.6,161.8 L748.8,161.1 L748.1,160.3 L747.5,159.4 L746.9,158.5 L746.5,157.5 L746.1,156.4 L745.8,155.3 L745.6,154.1 L745.4,152.9 L745.4,151.7 L745.5,150.5 L745.6,149.3 L745.9,148.1 L746.2,146.9 L746.6,145.8 L747.2,144.7 L747.7,143.7 L748.4,142.7 L749.1,141.8 L749.9,141.0 L750.7,140.3 L751.6,139.7 L752.5,139.1 L753.5,138.7 L754.5,138.4 L755.4,138.2 L756.4,138.1" stroke="#fff" stroke-width="1.6000000000000005" fill="none" />
<ellipse cx="787.0" cy="164.0" rx="13.5" ry="18.5" transform="rotate(18 787.0 164.0)" stroke="#000" stroke-width="3.0" fill="#fff" />
<ellipse cx="788.5" cy="164.0" rx="8.5" ry="13.0" transform="rotate(18 788.5 164.0)" stroke="#000" stroke-width="1.6" fill="none" />
<ellipse cx="786.0" cy="165.0" rx="11.0" ry="16.0" transform="rotate(18 786.0 165.0)" stroke="#000" stroke-width="0.9" fill="none" />
<ellipse cx="818.0" cy="181.0" rx="11.0" ry="18.5" transform="rotate(15 818.0 181.0)" stroke="#000" stroke-width="2.2" fill="#fff" />
<ellipse cx="825.0" cy="180.5" rx="12.0" ry="19.0" transform="rotate(15 825.0 180.5)" stroke="#000" stroke-width="1.8" fill="#fff" />
<ellipse cx="831.0" cy="180.0" rx="12.5" ry="19.5" transform="rotate(15 831.0 180.0)" stroke="#000" stroke-width="2.2" fill="#fff" />
<ellipse cx="832.0" cy="180.0" rx="8.5" ry="15.0" transform="rotate(15 832.0 180.0)" stroke="#000" stroke-width="1.8" fill="none" />
<ellipse cx="827.0" cy="180.5" rx="8.5" ry="15.0" transform="rotate(15 827.0 180.5)" stroke="#000" stroke-width="1.4" fill="none" />
<ellipse cx="891.0" cy="216.0" rx="23.0" ry="32.0" transform="rotate(12 891.0 216.0)" stroke="#000" stroke-width="1.8" fill="#fff" />
<ellipse cx="895.5" cy="215.5" rx="23.0" ry="32.0" transform="rotate(12 895.5 215.5)" stroke="#000" stroke-width="1.5" fill="#111" />
<ellipse cx="900.0" cy="215.0" rx="23.0" ry="32.0" transform="rotate(12 900.0 215.0)" stroke="#000" stroke-width="2.0" fill="#fff" />
<ellipse cx="900.5" cy="215.0" rx="20.7" ry="29.4" transform="rotate(12 900.5 215.0)" stroke="#000" stroke-width="1.8" fill="none" />
<ellipse cx="901.0" cy="216.0" rx="14.0" ry="21.0" transform="rotate(12 901.0 216.0)" stroke="#000" stroke-width="1.2" fill="none" />
<ellipse cx="899.0" cy="217.0" rx="8.5" ry="13.0" transform="rotate(12 899.0 217.0)" stroke="#000" stroke-width="1" fill="#000" />
<ellipse cx="902.0" cy="198.0" rx="5.0" ry="3.0" transform="rotate(0 902.0 198.0)" stroke="#000" stroke-width="1.4" fill="#fff" />
<ellipse cx="931.5" cy="232.0" rx="24.0" ry="32.5" transform="rotate(15 931.5 232.0)" stroke="#000" stroke-width="3.6" fill="none" />
<ellipse cx="931.5" cy="232.0" rx="24.0" ry="32.5" transform="rotate(15 931.5 232.0)" stroke="#fff" stroke-width="1.2" fill="none" />
<ellipse cx="954.0" cy="242.0" rx="8.5" ry="11.5" transform="rotate(15 954.0 242.0)" stroke="#000" stroke-width="3.8" fill="none" />
<ellipse cx="954.0" cy="242.0" rx="8.5" ry="11.5" transform="rotate(15 954.0 242.0)" stroke="#fff" stroke-width="0.8" fill="none" />
<polygon points="960.7,264.2 960.9,260.7 961.3,257.2 961.9,253.8 962.6,250.4 963.6,247.1 964.8,243.9 966.1,240.8 967.6,237.9 969.3,235.2 971.1,232.7 973.0,230.3 975.1,228.2 977.2,226.4 979.5,224.8 981.8,223.5 984.1,222.5 986.5,221.8 988.8,221.3 991.2,221.2 1006.2,222.2 1008.6,222.4 1010.9,222.9 1013.1,223.6 1015.3,224.7 1017.4,226.1 1019.3,227.7 1021.2,229.6 1022.9,231.7 1024.5,234.1 1025.8,236.7 1027.1,239.4 1028.1,242.4 1028.9,245.4 1029.6,248.7 1030.0,252.0 1030.3,255.4 1030.3,258.8 1030.1,262.3 1029.7,265.8 1029.2,269.2 1028.4,272.6 1027.4,275.9 1026.2,279.1 1024.9,282.1 1023.4,285.1 1021.7,287.8 1019.9,290.3 1018.0,292.7 1015.9,294.8 1013.8,296.6 1011.5,298.2 1009.2,299.5 1006.9,300.5 1004.5,301.2 1002.2,301.7 999.8,301.8 984.8,300.8 982.4,300.6 980.1,300.1 977.9,299.4 975.7,298.3 973.6,296.9 971.7,295.3 969.8,293.4 968.1,291.3 966.5,288.9 965.2,286.4 963.9,283.6 962.9,280.6 962.1,277.6 961.4,274.3 961.0,271.0 960.7,267.6" stroke="#000" stroke-width="1.6" fill="#fff" />
<polygon points="971.6,297.7 966.4,291.8 977.7,292.6 982.9,298.5" stroke="#000" stroke-width="1.4" fill="#fff" />
<polygon points="963.2,285.9 960.5,277.0 971.7,277.8 974.5,286.6" stroke="#000" stroke-width="1.4" fill="#fff" />
<polygon points="959.4,269.4 959.7,259.2 970.9,260.0 970.7,270.1" stroke="#000" stroke-width="1.4" fill="#fff" />
<polygon points="961.0,251.3 964.2,241.8 975.4,242.5 972.3,252.1" stroke="#000" stroke-width="1.4" fill="#fff" />
<polygon points="967.6,235.0 973.1,227.9 984.4,228.6 978.9,235.8" stroke="#000" stroke-width="1.4" fill="#fff" />
<polygon points="978.1,223.6 984.9,220.2 996.1,221.0 989.3,224.4" stroke="#000" stroke-width="1.4" fill="#fff" />
<ellipse cx="1003.0" cy="262.0" rx="27.0" ry="40.0" transform="rotate(8 1003.0 262.0)" stroke="#000" stroke-width="1.6" fill="#fff" />
<ellipse cx="1007.0" cy="267.0" rx="20.0" ry="24.0" transform="rotate(8 1007.0 267.0)" stroke="#000" stroke-width="1.2" fill="none" />
<ellipse cx="1008.0" cy="268.0" rx="12.0" ry="15.0" transform="rotate(8 1008.0 268.0)" stroke="#000" stroke-width="1.6" fill="#fff" />
<ellipse cx="1009.0" cy="268.0" rx="7.0" ry="9.5" transform="rotate(8 1009.0 268.0)" stroke="#000" stroke-width="1" fill="#111" />
<ellipse cx="629.0" cy="248.0" rx="27.0" ry="39.5" transform="rotate(10 629.0 248.0)" stroke="#000" stroke-width="1.8" fill="#fff" />
<ellipse cx="627.0" cy="248.0" rx="25.0" ry="37.0" transform="rotate(10 627.0 248.0)" stroke="#000" stroke-width="1.0" fill="none" />
<rect x="643.8" y="217.4" width="6" height="5" transform="rotate(-20 646.8 219.9)" stroke="#000" stroke-width="1.5" fill="#fff"/>
<rect x="649.9" y="243.4" width="6" height="5" transform="rotate(5 652.9 245.9)" stroke="#000" stroke-width="1.5" fill="#fff"/>
<rect x="642.4" y="268.0" width="6" height="5" transform="rotate(20 645.4 270.5)" stroke="#000" stroke-width="1.5" fill="#fff"/>
<rect x="626.4" y="282.2" width="6" height="5" transform="rotate(35 629.4 284.7)" stroke="#000" stroke-width="1.5" fill="#fff"/>
<polygon points="572.4,244.0 572.5,240.7 572.8,237.5 573.3,234.2 574.0,230.9 574.8,227.7 575.8,224.6 576.9,221.6 578.1,218.7 579.5,216.0 581.0,213.4 582.6,211.0 584.4,208.8 586.1,206.9 588.0,205.2 589.9,203.7 591.8,202.5 593.8,201.5 595.8,200.9 597.7,200.5 599.7,200.4 601.6,200.6 603.5,201.1 619.5,206.1 621.3,206.8 623.0,207.8 624.6,209.1 626.1,210.7 627.5,212.5 628.8,214.5 630.0,216.8 631.0,219.2 631.8,221.9 632.5,224.7 633.1,227.6 633.4,230.7 633.6,233.8 633.6,237.0 633.5,240.3 633.2,243.5 632.7,246.8 632.0,250.1 631.2,253.3 630.2,256.4 629.1,259.4 627.9,262.3 626.5,265.0 625.0,267.6 623.4,270.0 621.6,272.2 619.9,274.1 618.0,275.9 616.1,277.3 614.2,278.5 612.2,279.5 610.2,280.1 608.3,280.5 606.3,280.6 604.4,280.4 602.5,279.9 586.5,274.9 584.7,274.2 583.0,273.2 581.4,271.9 579.9,270.3 578.5,268.5 577.2,266.5 576.0,264.2 575.0,261.8 574.2,259.1 573.5,256.3 572.9,253.4 572.6,250.3 572.4,247.2" stroke="#000" stroke-width="1.8" fill="#fff" />
<polygon points="580.2,275.4 575.0,268.6 588.6,272.8 593.8,279.7" stroke="#000" stroke-width="1.4" fill="#fff" />
<polygon points="573.5,265.5 570.8,255.3 584.4,259.5 587.1,269.8" stroke="#000" stroke-width="1.4" fill="#fff" />
<polygon points="570.3,251.2 570.4,239.2 584.0,243.5 583.9,255.5" stroke="#000" stroke-width="1.4" fill="#fff" />
<polygon points="571.0,234.9 574.0,222.9 587.6,227.2 584.6,239.1" stroke="#000" stroke-width="1.4" fill="#fff" />
<polygon points="575.5,219.0 580.9,209.1 594.5,213.3 589.1,223.3" stroke="#000" stroke-width="1.4" fill="#fff" />
<polygon points="583.1,206.1 590.0,199.8 603.6,204.1 596.7,210.4" stroke="#000" stroke-width="1.4" fill="#fff" />
<polygon points="592.6,198.4 599.9,196.6 613.5,200.9 606.2,202.6" stroke="#000" stroke-width="1.4" fill="#fff" />
<ellipse cx="611.0" cy="243.0" rx="22.0" ry="38.0" transform="rotate(10 611.0 243.0)" stroke="#000" stroke-width="1.8" fill="#fff" />
<ellipse cx="612.0" cy="243.0" rx="18.0" ry="33.0" transform="rotate(10 612.0 243.0)" stroke="#000" stroke-width="1.0" fill="none" />
<polygon points="604.8,249.4 604.8,247.9 605.0,246.5 605.2,245.1 605.5,243.7 605.8,242.3 606.3,240.9 606.8,239.7 607.4,238.4 608.0,237.2 608.8,236.1 609.5,235.1 610.4,234.2 611.2,233.3 612.1,232.6 613.1,232.0 614.0,231.5 615.0,231.1 616.0,230.8 616.9,230.7 617.9,230.7 618.9,230.8 632.9,232.8 633.8,233.0 634.7,233.3 635.6,233.8 636.4,234.4 637.2,235.1 637.9,235.9 638.6,236.8 639.2,237.8 639.7,238.9 640.1,240.0 640.5,241.2 640.8,242.5 641.0,243.9 641.2,245.2 641.2,246.6 641.2,248.1 641.0,249.5 640.8,250.9 640.5,252.3 640.2,253.7 639.7,255.1 639.2,256.4 638.6,257.6 638.0,258.8 637.2,259.9 636.5,260.9 635.6,261.8 634.8,262.7 633.9,263.4 632.9,264.0 632.0,264.5 631.0,264.9 630.0,265.2 629.1,265.3 628.1,265.4 627.1,265.2 613.1,263.2 612.2,263.0 611.3,262.7 610.4,262.2 609.6,261.6 608.8,260.9 608.1,260.1 607.4,259.2 606.8,258.2 606.3,257.1 605.9,256.0 605.5,254.8 605.2,253.5 605.0,252.1 604.8,250.8" stroke="#000" stroke-width="1.8" fill="#fff" />
<ellipse cx="630.0" cy="249.0" rx="11.0" ry="16.5" transform="rotate(10 630.0 249.0)" stroke="#000" stroke-width="1.8" fill="#fff" />
<path d="M618.1,263.8 L616.5,263.8 L614.9,263.4 L613.4,262.7 L612.1,261.7 L610.9,260.3 L609.8,258.7 L609.0,256.9 L608.4,254.8 L608.0,252.6 L607.8,250.3 L607.9,248.0 L608.2,245.6 L608.7,243.3 L609.4,241.0 L610.4,238.9 L611.5,237.0 L612.8,235.3 L614.2,233.8 L615.8,232.7 L617.3,231.8 L619.0,231.3 L620.6,231.1 L622.2,231.3 L623.7,231.8" stroke="#000" stroke-width="1.4" fill="none" />
<path d="M621.6,264.3 L620.0,264.3 L618.4,263.9 L616.9,263.2 L615.6,262.2 L614.4,260.8 L613.3,259.2 L612.5,257.4 L611.9,255.3 L611.5,253.1 L611.3,250.8 L611.4,248.5 L611.7,246.1 L612.2,243.8 L612.9,241.5 L613.9,239.4 L615.0,237.5 L616.3,235.8 L617.7,234.3 L619.3,233.2 L620.8,232.3 L622.5,231.8 L624.1,231.6 L625.7,231.8 L627.2,232.3" stroke="#000" stroke-width="1.4" fill="none" />
<path d="M625.1,264.8 L623.5,264.8 L621.9,264.4 L620.4,263.7 L619.1,262.7 L617.9,261.3 L616.8,259.7 L616.0,257.9 L615.4,255.8 L615.0,253.6 L614.8,251.3 L614.9,249.0 L615.2,246.6 L615.7,244.3 L616.4,242.0 L617.4,239.9 L618.5,238.0 L619.8,236.3 L621.2,234.8 L622.8,233.7 L624.3,232.8 L626.0,232.3 L627.6,232.1 L629.2,232.3 L630.7,232.8" stroke="#000" stroke-width="1.4" fill="none" />
<ellipse cx="630.0" cy="249.0" rx="8.0" ry="12.5" transform="rotate(10 630.0 249.0)" stroke="#000" stroke-width="3.0" fill="#fff" />
<ellipse cx="631.0" cy="249.0" rx="4.5" ry="7.5" transform="rotate(10 631.0 249.0)" stroke="#000" stroke-width="1.6" fill="#333" />
<ellipse cx="666.0" cy="269.5" rx="7.5" ry="11.5" transform="rotate(12 666.0 269.5)" stroke="#000" stroke-width="3.8" fill="none" />
<ellipse cx="666.0" cy="269.5" rx="7.5" ry="11.5" transform="rotate(12 666.0 269.5)" stroke="#fff" stroke-width="0.8" fill="none" />
<ellipse cx="687.0" cy="281.0" rx="18.5" ry="33.0" transform="rotate(12 687.0 281.0)" stroke="#000" stroke-width="3.6" fill="none" />
<ellipse cx="687.0" cy="281.0" rx="18.5" ry="33.0" transform="rotate(12 687.0 281.0)" stroke="#fff" stroke-width="1.2" fill="none" />
<ellipse cx="702.0" cy="287.5" rx="24.5" ry="34.5" transform="rotate(12 702.0 287.5)" stroke="#000" stroke-width="1.8" fill="#fff" />
<ellipse cx="706.5" cy="287.0" rx="24.5" ry="34.5" transform="rotate(12 706.5 287.0)" stroke="#000" stroke-width="1.5" fill="#111" />
<ellipse cx="711.0" cy="286.5" rx="24.5" ry="34.5" transform="rotate(12 711.0 286.5)" stroke="#000" stroke-width="2.0" fill="#fff" />
<ellipse cx="711.5" cy="286.5" rx="22.1" ry="31.7" transform="rotate(12 711.5 286.5)" stroke="#000" stroke-width="1.8" fill="none" />
<ellipse cx="712.5" cy="287.5" rx="16.2" ry="25.5" transform="rotate(12 712.5 287.5)" stroke="#000" stroke-width="1.4" fill="none" />
<ellipse cx="713.5" cy="288.0" rx="10.3" ry="15.9" transform="rotate(12 713.5 288.0)" stroke="#000" stroke-width="2.6" fill="#fff" />
<ellipse cx="714.0" cy="288.0" rx="5.9" ry="11.0" transform="rotate(12 714.0 288.0)" stroke="#000" stroke-width="1.6" fill="none" />
<path d="M716.5,265.5 L724.5,262.5 M720.5,264.0 L719.5,269.5" stroke="#000" stroke-width="1.6" fill="none"/>
<ellipse cx="757.0" cy="317.0" rx="11.0" ry="18.5" transform="rotate(15 757.0 317.0)" stroke="#000" stroke-width="2.2" fill="#fff" />
<ellipse cx="764.0" cy="316.5" rx="12.0" ry="19.0" transform="rotate(15 764.0 316.5)" stroke="#000" stroke-width="1.8" fill="#fff" />
<ellipse cx="770.0" cy="316.0" rx="12.5" ry="19.5" transform="rotate(15 770.0 316.0)" stroke="#000" stroke-width="2.2" fill="#fff" />
<ellipse cx="771.0" cy="316.0" rx="8.5" ry="15.0" transform="rotate(15 771.0 316.0)" stroke="#000" stroke-width="1.8" fill="none" />
<ellipse cx="766.0" cy="316.5" rx="8.5" ry="15.0" transform="rotate(15 766.0 316.5)" stroke="#000" stroke-width="1.4" fill="none" />
<ellipse cx="799.5" cy="332.0" rx="13.5" ry="18.5" transform="rotate(18 799.5 332.0)" stroke="#000" stroke-width="3.0" fill="#fff" />
<ellipse cx="801.0" cy="332.0" rx="8.5" ry="13.0" transform="rotate(18 801.0 332.0)" stroke="#000" stroke-width="1.6" fill="none" />
<ellipse cx="798.5" cy="333.0" rx="11.0" ry="16.0" transform="rotate(18 798.5 333.0)" stroke="#000" stroke-width="0.9" fill="none" />
<path d="M831.8,333.5 L832.5,334.2 L833.2,335.0 L833.8,335.9 L834.3,336.9 L834.7,337.9 L835.1,339.0 L835.3,340.1 L835.5,341.2 L835.6,342.4 L835.5,343.5 L835.4,344.7 L835.2,345.8 L835.0,347.0 L834.6,348.1 L834.1,349.1 L833.6,350.1 L833.0,351.1 L832.3,352.0 L831.5,352.8 L830.7,353.5 L829.9,354.2 L829.0,354.7 L828.0,355.2 L827.1,355.5 L826.1,355.8 L825.1,355.9 L824.1,355.9 L823.1,355.9 L822.2,355.7 L821.2,355.4 L820.3,355.0 L819.5,354.5 L818.6,353.9 L817.9,353.2 L817.2,352.4 L816.6,351.6 L816.0,350.6 L815.5,349.7 L815.1,348.6 L814.8,347.5 L814.6,346.4 L814.5,345.3 L814.4,344.1 L814.5,342.9 L814.6,341.8 L814.9,340.6 L815.2,339.5 L815.6,338.4 L816.1,337.4 L816.7,336.4 L817.3,335.5 L818.1,334.6 L818.8,333.8 L819.7,333.2 L820.5,332.6 L821.5,332.0 L822.4,331.6 L823.4,331.3 L824.4,331.1 L825.3,331.1" stroke="#000" stroke-width="5.4" fill="none" stroke-linecap="round"/>
<path d="M831.8,333.5 L832.5,334.2 L833.2,335.0 L833.8,335.9 L834.3,336.9 L834.7,337.9 L835.1,339.0 L835.3,340.1 L835.5,341.2 L835.6,342.4 L835.5,343.5 L835.4,344.7 L835.2,345.8 L835.0,347.0 L834.6,348.1 L834.1,349.1 L833.6,350.1 L833.0,351.1 L832.3,352.0 L831.5,352.8 L830.7,353.5 L829.9,354.2 L829.0,354.7 L828.0,355.2 L827.1,355.5 L826.1,355.8 L825.1,355.9 L824.1,355.9 L823.1,355.9 L822.2,355.7 L821.2,355.4 L820.3,355.0 L819.5,354.5 L818.6,353.9 L817.9,353.2 L817.2,352.4 L816.6,351.6 L816.0,350.6 L815.5,349.7 L815.1,348.6 L814.8,347.5 L814.6,346.4 L814.5,345.3 L814.4,344.1 L814.5,342.9 L814.6,341.8 L814.9,340.6 L815.2,339.5 L815.6,338.4 L816.1,337.4 L816.7,336.4 L817.3,335.5 L818.1,334.6 L818.8,333.8 L819.7,333.2 L820.5,332.6 L821.5,332.0 L822.4,331.6 L823.4,331.3 L824.4,331.1 L825.3,331.1" stroke="#fff" stroke-width="1.6000000000000005" fill="none" />
<path d="M883.5,372.5 L882.5,374.9 L881.4,377.3 L880.2,379.6 L877.2,380.5 L875.9,382.6 L874.6,384.6 L873.3,386.5 L873.2,390.0 L871.6,391.8 L870.0,393.4 L868.4,395.0 L865.9,394.3 L864.3,395.6 L862.8,396.6 L861.2,397.6 L860.0,400.5 L858.3,401.2 L856.6,401.7 L855.0,402.0 L853.7,400.0 L852.2,400.1 L850.9,399.9 L849.5,399.7 L847.4,401.3 L846.1,400.6 L844.8,399.8 L843.6,398.9 L843.8,396.0 L842.9,394.9 L842.1,393.6 L841.3,392.2 L838.9,392.0 L838.3,390.3 L837.7,388.4 L837.3,386.4 L839.0,383.5 L838.8,381.5 L838.8,379.4 L838.8,377.2 L836.7,375.3 L837.0,372.9 L837.3,370.4 L837.7,367.9 L840.5,365.7 L841.1,363.3 L841.8,361.0 L842.6,358.6 L841.5,355.5 L842.5,353.1 L843.6,350.7 L844.8,348.4 L847.8,347.5 L849.1,345.4 L850.4,343.4 L851.7,341.5 L851.8,338.0 L853.4,336.2 L855.0,334.6 L856.6,333.0 L859.1,333.7 L860.7,332.4 L862.2,331.4 L863.8,330.4 L865.0,327.5 L866.7,326.8 L868.4,326.3 L870.0,326.0 L871.3,328.0 L872.8,327.9 L874.1,328.1 L875.5,328.3 L877.6,326.7 L878.9,327.4 L880.2,328.2 L881.4,329.1 L881.2,332.0 L882.1,333.1 L882.9,334.4 L883.7,335.8 L886.1,336.0 L886.7,337.7 L887.3,339.6 L887.7,341.6 L886.0,344.5 L886.2,346.5 L886.2,348.6 L886.2,350.8 L888.3,352.7 L888.0,355.1 L887.7,357.6 L887.3,360.1 L884.5,362.3 L883.9,364.7 L883.2,367.0 L882.4,369.4 L883.5,372.5Z" stroke="#000" stroke-width="1.4" fill="#fff" />
<ellipse cx="863.5" cy="364.0" rx="17.6" ry="34.2" transform="rotate(22 863.5 364.0)" stroke="#000" stroke-width="0.9" fill="#fff" />
<polygon points="851.3,382.4 851.4,379.6 851.8,376.7 852.2,373.8 852.9,370.8 853.7,367.8 854.7,364.8 855.8,361.9 857.0,359.0 858.4,356.2 859.9,353.4 861.5,350.9 863.2,348.4 865.0,346.1 866.8,344.0 868.7,342.1 870.6,340.3 872.6,338.8 874.6,337.6 876.5,336.5 878.5,335.7 880.4,335.2 882.2,334.9 884.0,334.9 885.7,335.2 887.4,335.7 889.2,336.5 892.8,338.2 898.2,340.6 899.8,341.4 901.2,342.4 902.4,343.7 903.6,345.1 904.6,346.9 905.5,348.8 906.1,350.9 906.7,353.1 907.0,355.6 907.2,358.2 907.3,360.9 907.1,363.7 906.8,366.6 906.3,369.5 905.6,372.5 904.8,375.5 903.9,378.5 902.8,381.4 901.5,384.3 900.1,387.1 898.6,389.8 897.0,392.4 895.4,394.9 893.6,397.2 891.7,399.3 889.9,401.2 887.9,402.9 886.0,404.4 884.0,405.7 882.0,406.7 880.1,407.5 878.2,408.1 876.3,408.3 874.5,408.3 872.8,408.1 871.2,407.6 862.1,403.5 860.3,402.6 858.8,401.9 857.4,400.9 856.1,399.6 855.0,398.1 854.0,396.4 853.1,394.5 852.4,392.4 851.9,390.1 851.5,387.7 851.3,385.1" stroke="#000" stroke-width="1.8" fill="#111" />
<ellipse cx="877.1" cy="370.6" rx="18.7" ry="35.3" transform="rotate(22 877.1 370.6)" stroke="#fff" stroke-width="2.1" fill="none" stroke-dasharray="1.8 2.0" stroke-dashoffset="0.0"/>
<ellipse cx="881.4" cy="372.6" rx="18.7" ry="35.3" transform="rotate(22 881.4 372.6)" stroke="#fff" stroke-width="2.1" fill="none" stroke-dasharray="1.8 2.0" stroke-dashoffset="1.7"/>
<ellipse cx="884.7" cy="374.1" rx="19.5" ry="36.1" transform="rotate(22 884.7 374.1)" stroke="#000" stroke-width="1.3" fill="#fff" />
<ellipse cx="885.7" cy="374.1" rx="14.8" ry="30.4" transform="rotate(22 885.7 374.1)" stroke="#000" stroke-width="1.0" fill="#fff" />
<path d="M914.7,386.7 L913.7,389.1 L912.6,391.5 L911.4,393.8 L908.4,394.7 L907.1,396.8 L905.8,398.8 L904.4,400.7 L904.4,404.2 L902.8,406.0 L901.2,407.6 L899.6,409.2 L897.1,408.5 L895.5,409.7 L894.0,410.8 L892.4,411.8 L891.2,414.7 L889.5,415.4 L887.8,415.9 L886.2,416.2 L884.9,414.2 L883.4,414.2 L882.1,414.1 L880.7,413.8 L878.6,415.5 L877.3,414.8 L876.0,414.0 L874.8,413.1 L875.0,410.2 L874.1,409.1 L873.3,407.8 L872.5,406.4 L870.1,406.2 L869.5,404.5 L868.9,402.6 L868.5,400.6 L870.2,397.7 L870.0,395.6 L869.9,393.5 L870.0,391.4 L867.9,389.5 L868.1,387.0 L868.5,384.6 L868.9,382.1 L871.6,379.9 L872.3,377.5 L873.0,375.2 L873.8,372.8 L872.6,369.7 L873.7,367.3 L874.8,364.9 L876.0,362.6 L879.0,361.7 L880.3,359.6 L881.6,357.6 L882.9,355.7 L883.0,352.2 L884.6,350.4 L886.2,348.8 L887.8,347.2 L890.3,347.8 L891.9,346.6 L893.4,345.6 L895.0,344.6 L896.2,341.7 L897.9,341.0 L899.5,340.5 L901.2,340.2 L902.5,342.2 L903.9,342.1 L905.3,342.3 L906.6,342.5 L908.7,340.9 L910.1,341.6 L911.4,342.3 L912.6,343.3 L912.4,346.1 L913.3,347.3 L914.1,348.6 L914.9,350.0 L917.3,350.2 L917.9,351.9 L918.4,353.8 L918.9,355.8 L917.2,358.7 L917.4,360.7 L917.4,362.8 L917.4,365.0 L919.4,366.9 L919.2,369.3 L918.9,371.8 L918.5,374.3 L915.7,376.5 L915.1,378.8 L914.4,381.2 L913.6,383.5 L914.7,386.7Z" stroke="#000" stroke-width="1.4" fill="#fff" />
<ellipse cx="894.7" cy="378.2" rx="17.6" ry="34.2" transform="rotate(22 894.7 378.2)" stroke="#000" stroke-width="0.9" fill="#fff" />
<polygon points="882.5,396.6 882.6,393.8 882.9,390.9 883.4,387.9 884.1,385.0 884.9,382.0 885.9,379.0 887.0,376.1 888.2,373.2 889.6,370.4 891.1,367.6 892.7,365.1 894.4,362.6 896.1,360.3 898.0,358.2 899.9,356.2 901.8,354.5 903.8,353.0 905.8,351.8 907.7,350.7 909.6,349.9 911.6,349.4 913.4,349.1 915.2,349.1 916.9,349.4 918.5,349.9 920.4,350.7 929.4,354.8 930.9,355.6 932.4,356.6 933.6,357.9 934.8,359.3 935.8,361.0 936.6,363.0 937.3,365.1 937.9,367.3 938.2,369.8 938.4,372.4 938.4,375.1 938.3,377.9 938.0,380.8 937.5,383.7 936.8,386.7 936.0,389.7 935.1,392.6 934.0,395.6 932.7,398.5 931.3,401.3 929.8,404.0 928.2,406.6 926.5,409.1 924.8,411.4 922.9,413.5 921.0,415.4 919.1,417.1 917.1,418.6 915.2,419.9 913.2,420.9 911.3,421.7 909.4,422.2 907.5,422.5 905.7,422.5 904.0,422.3 902.4,421.8 893.3,417.6 891.5,416.8 890.0,416.1 888.6,415.1 887.3,413.8 886.1,412.3 885.1,410.6 884.3,408.7 883.6,406.6 883.1,404.3 882.7,401.9 882.5,399.3" stroke="#000" stroke-width="1.8" fill="#111" />
<ellipse cx="908.3" cy="384.8" rx="18.7" ry="35.3" transform="rotate(22 908.3 384.8)" stroke="#fff" stroke-width="2.1" fill="none" stroke-dasharray="1.8 2.0" stroke-dashoffset="0.0"/>
<ellipse cx="912.6" cy="386.8" rx="18.7" ry="35.3" transform="rotate(22 912.6 386.8)" stroke="#fff" stroke-width="2.1" fill="none" stroke-dasharray="1.8 2.0" stroke-dashoffset="1.7"/>
<ellipse cx="915.9" cy="388.3" rx="19.5" ry="36.1" transform="rotate(22 915.9 388.3)" stroke="#000" stroke-width="1.3" fill="#fff" />
<ellipse cx="916.9" cy="388.3" rx="14.8" ry="30.4" transform="rotate(22 916.9 388.3)" stroke="#000" stroke-width="1.0" fill="#fff" />
<path d="M946.4,401.1 L945.4,403.5 L944.2,405.9 L943.0,408.2 L940.0,409.1 L938.8,411.2 L937.5,413.2 L936.1,415.1 L936.0,418.6 L934.5,420.4 L932.9,422.0 L931.2,423.6 L928.7,422.9 L927.2,424.1 L925.6,425.2 L924.1,426.2 L922.8,429.1 L921.1,429.8 L919.5,430.3 L917.8,430.6 L916.5,428.6 L915.1,428.6 L913.7,428.5 L912.4,428.3 L910.3,429.9 L908.9,429.2 L907.7,428.4 L906.5,427.5 L906.7,424.6 L905.8,423.5 L904.9,422.2 L904.2,420.8 L901.8,420.6 L901.1,418.9 L900.6,417.0 L900.1,415.0 L901.8,412.1 L901.7,410.1 L901.6,408.0 L901.6,405.8 L899.6,403.9 L899.8,401.5 L900.1,399.0 L900.6,396.5 L903.3,394.3 L903.9,391.9 L904.6,389.6 L905.4,387.2 L904.3,384.1 L905.3,381.7 L906.4,379.3 L907.6,377.0 L910.7,376.1 L911.9,374.0 L913.2,372.0 L914.6,370.1 L914.6,366.6 L916.2,364.8 L917.8,363.2 L919.4,361.6 L922.0,362.3 L923.5,361.0 L925.1,360.0 L926.6,359.0 L927.9,356.1 L929.5,355.4 L931.2,354.9 L932.8,354.6 L934.2,356.6 L935.6,356.5 L937.0,356.7 L938.3,356.9 L940.4,355.3 L941.7,356.0 L943.0,356.8 L944.2,357.7 L944.0,360.6 L944.9,361.7 L945.8,363.0 L946.5,364.4 L948.9,364.6 L949.6,366.3 L950.1,368.2 L950.5,370.2 L948.8,373.1 L949.0,375.1 L949.1,377.2 L949.1,379.4 L951.1,381.3 L950.9,383.7 L950.6,386.2 L950.1,388.7 L947.4,390.9 L946.8,393.3 L946.0,395.6 L945.2,398.0 L946.4,401.1Z" stroke="#000" stroke-width="1.4" fill="#fff" />
<ellipse cx="926.3" cy="392.6" rx="17.6" ry="34.2" transform="rotate(22 926.3 392.6)" stroke="#000" stroke-width="0.9" fill="#fff" />
<polygon points="914.1,411.0 914.3,408.2 914.6,405.3 915.1,402.4 915.7,399.4 916.5,396.4 917.5,393.4 918.6,390.5 919.9,387.6 921.2,384.8 922.7,382.1 924.3,379.4 926.0,377.0 927.8,374.7 929.6,372.6 931.5,370.6 933.5,368.9 935.4,367.4 937.4,366.1 939.4,365.1 941.3,364.3 943.2,363.8 945.1,363.5 946.9,363.5 948.6,363.8 950.2,364.3 959.3,368.4 961.1,369.2 962.6,370.0 964.0,371.0 965.3,372.3 966.4,373.7 967.4,375.4 968.3,377.4 969.0,379.5 969.5,381.8 969.9,384.2 970.1,386.8 970.1,389.5 970.0,392.3 969.6,395.2 969.1,398.1 968.5,401.1 967.7,404.1 966.7,407.1 965.6,410.0 964.4,412.9 963.0,415.7 961.5,418.4 959.9,421.0 958.2,423.5 956.4,425.8 954.6,427.9 952.7,429.8 950.8,431.5 948.8,433.0 946.8,434.3 944.9,435.3 942.9,436.1 941.0,436.6 939.2,436.9 937.4,436.9 935.6,436.7 934.0,436.2 932.2,435.4 928.6,433.7 923.2,431.2 921.6,430.5 920.2,429.4 919.0,428.2 917.8,426.7 916.8,425.0 915.9,423.1 915.2,421.0 914.7,418.7 914.4,416.3 914.2,413.7" stroke="#000" stroke-width="1.8" fill="#111" />
<ellipse cx="939.9" cy="399.2" rx="18.7" ry="35.3" transform="rotate(22 939.9 399.2)" stroke="#fff" stroke-width="2.1" fill="none" stroke-dasharray="1.8 2.0" stroke-dashoffset="0.0"/>
<ellipse cx="944.3" cy="401.2" rx="18.7" ry="35.3" transform="rotate(22 944.3 401.2)" stroke="#fff" stroke-width="2.1" fill="none" stroke-dasharray="1.8 2.0" stroke-dashoffset="1.7"/>
<ellipse cx="947.5" cy="402.7" rx="19.5" ry="36.1" transform="rotate(22 947.5 402.7)" stroke="#000" stroke-width="1.3" fill="#fff" />
<ellipse cx="948.5" cy="402.7" rx="14.8" ry="30.4" transform="rotate(22 948.5 402.7)" stroke="#000" stroke-width="1.0" fill="#fff" />
<path d="M978.0,415.5 L977.0,417.9 L975.9,420.3 L974.7,422.6 L971.7,423.5 L970.4,425.6 L969.1,427.6 L967.8,429.5 L967.7,433.0 L966.1,434.8 L964.5,436.4 L962.9,438.0 L960.4,437.3 L958.8,438.6 L957.3,439.6 L955.7,440.6 L954.5,443.5 L952.8,444.2 L951.1,444.7 L949.5,445.0 L948.2,443.0 L946.7,443.1 L945.4,442.9 L944.0,442.7 L941.9,444.3 L940.6,443.6 L939.3,442.8 L938.1,441.9 L938.3,439.0 L937.4,437.9 L936.6,436.6 L935.8,435.2 L933.4,435.0 L932.8,433.3 L932.2,431.4 L931.8,429.4 L933.5,426.5 L933.3,424.5 L933.3,422.4 L933.3,420.2 L931.2,418.3 L931.5,415.9 L931.8,413.4 L932.2,410.9 L935.0,408.7 L935.6,406.3 L936.3,404.0 L937.1,401.6 L936.0,398.5 L937.0,396.1 L938.1,393.7 L939.3,391.4 L942.3,390.5 L943.6,388.4 L944.9,386.4 L946.2,384.5 L946.3,381.0 L947.9,379.2 L949.5,377.6 L951.1,376.0 L953.6,376.7 L955.2,375.4 L956.7,374.4 L958.3,373.4 L959.5,370.5 L961.2,369.8 L962.9,369.3 L964.5,369.0 L965.8,371.0 L967.3,370.9 L968.6,371.1 L970.0,371.3 L972.1,369.7 L973.4,370.4 L974.7,371.2 L975.9,372.1 L975.7,375.0 L976.6,376.1 L977.4,377.4 L978.2,378.8 L980.6,379.0 L981.2,380.7 L981.8,382.6 L982.2,384.6 L980.5,387.5 L980.7,389.5 L980.7,391.6 L980.7,393.8 L982.8,395.7 L982.5,398.1 L982.2,400.6 L981.8,403.1 L979.0,405.3 L978.4,407.7 L977.7,410.0 L976.9,412.4 L978.0,415.5Z" stroke="#000" stroke-width="1.5" fill="#fff" />
<ellipse cx="957.5" cy="407.0" rx="17.6" ry="34.2" transform="rotate(22 957.5 407.0)" stroke="#000" stroke-width="1.0" fill="none" />
<ellipse cx="956.0" cy="408.0" rx="14.5" ry="27.5" transform="rotate(26 956.0 408.0)" stroke="#000" stroke-width="2.2" fill="#fff" />
<path d="M950.2,427.2 L949.6,426.7 L949.1,426.1 L948.7,425.4 L948.3,424.5 L948.0,423.6 L947.8,422.6 L947.6,421.5 L947.5,420.3 L947.5,419.1 L947.6,417.7 L947.7,416.4 L947.9,414.9 L948.2,413.5 L948.5,411.9 L949.0,410.4 L949.5,408.9 L950.0,407.3 L950.6,405.7 L951.3,404.2 L952.0,402.6 L952.8,401.1 L953.6,399.6 L954.5,398.2 L955.4,396.8 L956.3,395.4 L957.2,394.1 L958.2,392.9 L959.2,391.8 L960.2,390.8 L961.2,389.8 L962.2,388.9 L963.2,388.2 L964.2,387.5 L965.1,387.0 L966.1,386.5 L967.0,386.2 L967.9,386.0 L968.7,385.9 L969.5,385.9 L970.3,386.0" stroke="#000" stroke-width="5.5" fill="none" stroke-dasharray="2.5 1.3"/>
<path d="M953.0,425.2 L952.6,424.7 L952.2,424.0 L951.9,423.3 L951.6,422.4 L951.4,421.5 L951.2,420.6 L951.1,419.5 L951.1,418.4 L951.2,417.2 L951.3,416.0 L951.4,414.8 L951.6,413.4 L951.9,412.1 L952.3,410.7 L952.7,409.3 L953.1,407.9 L953.6,406.5 L954.2,405.1 L954.8,403.7 L955.5,402.3 L956.2,401.0 L956.9,399.6 L957.7,398.3 L958.5,397.0 L959.3,395.8 L960.1,394.7 L961.0,393.5 L961.9,392.5 L962.8,391.5 L963.7,390.6 L964.6,389.8 L965.5,389.0 L966.3,388.4 L967.2,387.8 L968.1,387.3 L968.9,386.9 L969.7,386.6 L970.5,386.4 L971.3,386.3 L972.0,386.3" stroke="#000" stroke-width="1.5" fill="none" />
<path d="M1030.0,403.3 L1031.5,405.2 L1032.9,407.3 L1034.0,409.7 L1034.9,412.2 L1035.6,414.9 L1036.1,417.8 L1036.3,420.8 L1036.3,423.9 L1036.1,427.1 L1035.6,430.3 L1034.9,433.5 L1033.9,436.6 L1032.8,439.8 L1031.5,442.8 L1029.9,445.7 L1028.2,448.5 L1026.3,451.2 L1024.3,453.6 L1022.2,455.9 L1019.9,457.9 L1017.6,459.6 L1015.2,461.1 L1012.8,462.3 L1010.3,463.2 L1007.9,463.8 L1005.5,464.1 L1003.1,464.1 L1000.9,463.8 L998.7,463.2 L996.6,462.3 L994.6,461.1 L992.9,459.6 L991.2,457.8 L989.8,455.8 L988.6,453.6 L987.5,451.2 L986.7,448.5 L986.1,445.7 L985.8,442.8 L985.7,439.7 L985.8,436.6 L986.1,433.4 L986.7,430.2 L987.5,427.0 L988.6,423.9 L989.8,420.8 L991.2,417.8 L992.9,414.9 L994.7,412.2 L996.6,409.7 L998.7,407.3 L1000.9,405.2 L1003.1,403.3 L1005.5,401.7 L1007.9,400.3 L1010.4,399.2 L1012.8,398.5 L1015.2,398.0 L1017.6,397.8 L1019.9,398.0" stroke="#000" stroke-width="6.3" fill="none" stroke-linecap="round"/>
<path d="M1030.0,403.3 L1031.5,405.2 L1032.9,407.3 L1034.0,409.7 L1034.9,412.2 L1035.6,414.9 L1036.1,417.8 L1036.3,420.8 L1036.3,423.9 L1036.1,427.1 L1035.6,430.3 L1034.9,433.5 L1033.9,436.6 L1032.8,439.8 L1031.5,442.8 L1029.9,445.7 L1028.2,448.5 L1026.3,451.2 L1024.3,453.6 L1022.2,455.9 L1019.9,457.9 L1017.6,459.6 L1015.2,461.1 L1012.8,462.3 L1010.3,463.2 L1007.9,463.8 L1005.5,464.1 L1003.1,464.1 L1000.9,463.8 L998.7,463.2 L996.6,462.3 L994.6,461.1 L992.9,459.6 L991.2,457.8 L989.8,455.8 L988.6,453.6 L987.5,451.2 L986.7,448.5 L986.1,445.7 L985.8,442.8 L985.7,439.7 L985.8,436.6 L986.1,433.4 L986.7,430.2 L987.5,427.0 L988.6,423.9 L989.8,420.8 L991.2,417.8 L992.9,414.9 L994.7,412.2 L996.6,409.7 L998.7,407.3 L1000.9,405.2 L1003.1,403.3 L1005.5,401.7 L1007.9,400.3 L1010.4,399.2 L1012.8,398.5 L1015.2,398.0 L1017.6,397.8 L1019.9,398.0" stroke="#fff" stroke-width="1.7000000000000002" fill="none" />
<ellipse cx="58.0" cy="184.0" rx="27.0" ry="39.0" transform="rotate(10 58.0 184.0)" stroke="#000" stroke-width="1.8" fill="#fff" />
<ellipse cx="56.0" cy="184.0" rx="25.0" ry="36.5" transform="rotate(10 56.0 184.0)" stroke="#000" stroke-width="1.0" fill="none" />
<rect x="73.7" y="156.1" width="6" height="5.5" transform="rotate(-20 76.7 158.9)" stroke="#000" stroke-width="1.5" fill="#fff"/>
<rect x="78.1" y="182.4" width="6" height="5.5" transform="rotate(5 81.1 185.1)" stroke="#000" stroke-width="1.5" fill="#fff"/>
<rect x="69.5" y="205.7" width="6" height="5.5" transform="rotate(20 72.5 208.5)" stroke="#000" stroke-width="1.5" fill="#fff"/>
<rect x="53.2" y="217.6" width="6" height="5.5" transform="rotate(35 56.2 220.3)" stroke="#000" stroke-width="1.5" fill="#fff"/>
<polygon points="17.4,185.7 17.6,182.6 17.9,179.4 18.3,176.2 19.0,173.0 19.8,169.9 20.7,166.9 21.8,163.9 23.1,161.1 24.4,158.5 25.9,156.0 27.5,153.7 29.2,151.5 31.0,149.6 32.8,148.0 34.7,146.5 36.7,145.4 38.6,144.4 40.6,143.8 42.6,143.4 44.5,143.4 46.4,143.6 56.4,145.6 58.3,146.0 60.1,146.8 61.8,147.8 63.5,149.1 65.0,150.6 66.4,152.3 67.7,154.3 68.8,156.5 69.9,158.9 70.7,161.5 71.4,164.2 72.0,167.1 72.3,170.1 72.6,173.1 72.6,176.3 72.5,179.4 72.1,182.6 71.7,185.8 71.0,189.0 70.2,192.1 69.3,195.1 68.2,198.1 66.9,200.9 65.5,203.5 64.1,206.0 62.5,208.3 60.8,210.5 59.0,212.4 57.2,214.0 55.3,215.5 53.3,216.6 51.4,217.6 49.4,218.2 47.4,218.6 45.5,218.6 43.6,218.4 33.6,216.4 31.7,216.0 29.9,215.2 28.2,214.2 26.6,212.9 25.0,211.4 23.6,209.7 22.3,207.7 21.1,205.5 20.1,203.1 19.3,200.5 18.6,197.8 18.0,194.9 17.6,191.9 17.4,188.9" stroke="#000" stroke-width="1.8" fill="#fff" />
<polygon points="32.2,220.7 25.5,217.3 34.5,219.1 41.2,222.5" stroke="#000" stroke-width="1.4" fill="#fff" />
<polygon points="23.4,215.4 18.5,207.7 27.5,209.5 32.4,217.2" stroke="#000" stroke-width="1.4" fill="#fff" />
<polygon points="17.2,204.4 15.0,193.7 24.0,195.5 26.2,206.2" stroke="#000" stroke-width="1.4" fill="#fff" />
<polygon points="14.7,189.6 15.4,177.5 24.4,179.3 23.7,191.4" stroke="#000" stroke-width="1.4" fill="#fff" />
<polygon points="16.2,173.2 19.8,161.7 28.8,163.5 25.2,175.0" stroke="#000" stroke-width="1.4" fill="#fff" />
<polygon points="21.5,158.0 27.4,148.8 36.4,150.6 30.5,159.8" stroke="#000" stroke-width="1.4" fill="#fff" />
<polygon points="29.7,146.2 36.9,140.9 45.9,142.7 38.7,148.0" stroke="#000" stroke-width="1.4" fill="#fff" />
<polygon points="39.6,139.8 47.0,139.2 56.0,141.0 48.6,141.6" stroke="#000" stroke-width="1.4" fill="#fff" />
<ellipse cx="50.0" cy="182.0" rx="22.0" ry="37.0" transform="rotate(10 50.0 182.0)" stroke="#000" stroke-width="1.8" fill="#fff" />
<polygon points="32.9,183.0 32.9,181.7 33.0,180.4 33.2,179.1 33.4,177.8 33.8,176.6 34.2,175.3 34.7,174.2 35.3,173.0 35.9,172.0 36.6,171.0 37.4,170.0 38.2,169.2 39.0,168.5 39.9,167.8 40.8,167.2 41.8,166.8 42.7,166.5 43.7,166.2 44.7,166.1 45.6,166.1 46.6,166.2 59.6,168.2 60.5,168.4 61.5,168.8 62.3,169.2 63.1,169.8 63.9,170.4 64.7,171.2 65.3,172.0 66.0,172.9 66.5,173.9 67.0,175.0 67.4,176.1 67.7,177.3 67.9,178.5 68.1,179.7 68.1,181.0 68.1,182.3 68.0,183.6 67.8,184.9 67.6,186.2 67.2,187.4 66.8,188.7 66.3,189.8 65.7,191.0 65.1,192.0 64.4,193.0 63.6,194.0 62.8,194.8 62.0,195.5 61.1,196.2 60.2,196.8 59.2,197.2 58.3,197.5 57.3,197.8 56.3,197.9 55.4,197.9 54.4,197.8 41.4,195.8 40.5,195.6 39.5,195.2 38.7,194.8 37.9,194.2 37.1,193.6 36.3,192.8 35.6,192.0 35.0,191.1 34.5,190.1 34.0,189.0 33.6,187.9 33.3,186.7 33.1,185.5 32.9,184.3" stroke="#000" stroke-width="1.8" fill="#fff" />
<ellipse cx="57.0" cy="183.0" rx="11.0" ry="15.0" transform="rotate(10 57.0 183.0)" stroke="#000" stroke-width="1.8" fill="#fff" />
<path d="M46.3,196.4 L44.7,196.3 L43.2,196.0 L41.7,195.3 L40.3,194.3 L39.1,193.1 L38.0,191.6 L37.2,189.9 L36.5,188.0 L36.1,186.0 L35.9,183.9 L35.9,181.8 L36.2,179.6 L36.7,177.5 L37.4,175.4 L38.3,173.5 L39.4,171.8 L40.6,170.3 L42.0,169.0 L43.5,167.9 L45.1,167.2 L46.7,166.7 L48.3,166.6 L49.9,166.8 L51.4,167.3" stroke="#000" stroke-width="1.4" fill="none" />
<path d="M49.8,196.9 L48.2,196.8 L46.7,196.5 L45.2,195.8 L43.8,194.8 L42.6,193.6 L41.5,192.1 L40.7,190.4 L40.0,188.5 L39.6,186.5 L39.4,184.4 L39.4,182.3 L39.7,180.1 L40.2,178.0 L40.9,175.9 L41.8,174.0 L42.9,172.3 L44.1,170.8 L45.5,169.5 L47.0,168.4 L48.6,167.7 L50.2,167.2 L51.8,167.1 L53.4,167.3 L54.9,167.8" stroke="#000" stroke-width="1.4" fill="none" />
<path d="M53.3,197.4 L51.7,197.3 L50.2,197.0 L48.7,196.3 L47.3,195.3 L46.1,194.1 L45.0,192.6 L44.2,190.9 L43.5,189.0 L43.1,187.0 L42.9,184.9 L42.9,182.8 L43.2,180.6 L43.7,178.5 L44.4,176.4 L45.3,174.5 L46.4,172.8 L47.6,171.3 L49.0,170.0 L50.5,168.9 L52.1,168.2 L53.7,167.7 L55.3,167.6 L56.9,167.8 L58.4,168.3" stroke="#000" stroke-width="1.4" fill="none" />
<ellipse cx="57.0" cy="183.0" rx="8.0" ry="11.5" transform="rotate(10 57.0 183.0)" stroke="#000" stroke-width="3.2" fill="#fff" />
<ellipse cx="58.0" cy="183.0" rx="4.5" ry="7.0" transform="rotate(10 58.0 183.0)" stroke="#000" stroke-width="1.6" fill="#222" />
<line x1="52.0" y1="146.0" x2="36.0" y2="214.0" stroke="#000" stroke-width="1.4" />
<ellipse cx="97.4" cy="200.8" rx="9.5" ry="12.0" transform="rotate(12 97.4 200.8)" stroke="#000" stroke-width="3.8" fill="none" />
<ellipse cx="97.4" cy="200.8" rx="9.5" ry="12.0" transform="rotate(12 97.4 200.8)" stroke="#fff" stroke-width="0.8" fill="none" />
<ellipse cx="125.5" cy="219.0" rx="19.5" ry="33.5" transform="rotate(12 125.5 219.0)" stroke="#000" stroke-width="3.6" fill="none" />
<ellipse cx="125.5" cy="219.0" rx="19.5" ry="33.5" transform="rotate(12 125.5 219.0)" stroke="#fff" stroke-width="1.2" fill="none" />
<ellipse cx="143.5" cy="228.0" rx="24.0" ry="34.0" transform="rotate(12 143.5 228.0)" stroke="#000" stroke-width="1.8" fill="#fff" />
<ellipse cx="148.0" cy="227.5" rx="24.0" ry="34.0" transform="rotate(12 148.0 227.5)" stroke="#000" stroke-width="1.5" fill="#111" />
<ellipse cx="152.5" cy="227.0" rx="24.0" ry="34.0" transform="rotate(12 152.5 227.0)" stroke="#000" stroke-width="2.0" fill="#fff" />
<ellipse cx="153.0" cy="227.0" rx="21.6" ry="31.3" transform="rotate(12 153.0 227.0)" stroke="#000" stroke-width="1.8" fill="none" />
<ellipse cx="154.0" cy="228.0" rx="15.8" ry="25.2" transform="rotate(12 154.0 228.0)" stroke="#000" stroke-width="1.4" fill="none" />
<ellipse cx="155.0" cy="228.5" rx="10.1" ry="15.6" transform="rotate(12 155.0 228.5)" stroke="#000" stroke-width="2.6" fill="#fff" />
<ellipse cx="155.5" cy="228.5" rx="5.8" ry="10.9" transform="rotate(12 155.5 228.5)" stroke="#000" stroke-width="1.6" fill="none" />
<path d="M157.8,206.3 L165.8,203.3 M161.8,204.8 L160.8,210.3" stroke="#000" stroke-width="1.6" fill="none"/>
<ellipse cx="231.0" cy="271.0" rx="11.0" ry="18.5" transform="rotate(15 231.0 271.0)" stroke="#000" stroke-width="2.2" fill="#fff" />
<ellipse cx="238.0" cy="270.5" rx="12.0" ry="19.0" transform="rotate(15 238.0 270.5)" stroke="#000" stroke-width="1.8" fill="#fff" />
<ellipse cx="244.0" cy="270.0" rx="12.5" ry="19.5" transform="rotate(15 244.0 270.0)" stroke="#000" stroke-width="2.2" fill="#fff" />
<ellipse cx="245.0" cy="270.0" rx="8.5" ry="15.0" transform="rotate(15 245.0 270.0)" stroke="#000" stroke-width="1.8" fill="none" />
<ellipse cx="240.0" cy="270.5" rx="8.5" ry="15.0" transform="rotate(15 240.0 270.5)" stroke="#000" stroke-width="1.4" fill="none" />
<ellipse cx="269.5" cy="283.0" rx="14.0" ry="19.0" transform="rotate(18 269.5 283.0)" stroke="#000" stroke-width="3.0" fill="#fff" />
<ellipse cx="271.0" cy="283.0" rx="9.0" ry="13.5" transform="rotate(18 271.0 283.0)" stroke="#000" stroke-width="1.6" fill="none" />
<ellipse cx="268.5" cy="284.0" rx="11.5" ry="16.5" transform="rotate(18 268.5 284.0)" stroke="#000" stroke-width="0.9" fill="none" />
<path d="M303.8,286.6 L304.6,287.3 L305.2,288.2 L305.8,289.1 L306.3,290.1 L306.8,291.1 L307.1,292.2 L307.3,293.4 L307.5,294.5 L307.6,295.7 L307.6,296.9 L307.4,298.2 L307.2,299.4 L306.9,300.5 L306.6,301.7 L306.1,302.8 L305.5,303.8 L304.9,304.8 L304.2,305.8 L303.5,306.6 L302.7,307.4 L301.8,308.1 L300.9,308.6 L300.0,309.1 L299.0,309.5 L298.0,309.7 L297.0,309.9 L296.0,309.9 L295.1,309.9 L294.1,309.7 L293.2,309.4 L292.2,308.9 L291.4,308.4 L290.6,307.8 L289.8,307.1 L289.1,306.3 L288.5,305.4 L287.9,304.5 L287.5,303.5 L287.1,302.4 L286.8,301.3 L286.6,300.1 L286.4,298.9 L286.4,297.7 L286.5,296.5 L286.6,295.3 L286.9,294.1 L287.2,292.9 L287.6,291.8 L288.2,290.7 L288.7,289.7 L289.4,288.7 L290.1,287.8 L290.9,287.0 L291.7,286.3 L292.6,285.7 L293.5,285.1 L294.5,284.7 L295.5,284.4 L296.4,284.2 L297.4,284.1" stroke="#000" stroke-width="5.4" fill="none" stroke-linecap="round"/>
<path d="M303.8,286.6 L304.6,287.3 L305.2,288.2 L305.8,289.1 L306.3,290.1 L306.8,291.1 L307.1,292.2 L307.3,293.4 L307.5,294.5 L307.6,295.7 L307.6,296.9 L307.4,298.2 L307.2,299.4 L306.9,300.5 L306.6,301.7 L306.1,302.8 L305.5,303.8 L304.9,304.8 L304.2,305.8 L303.5,306.6 L302.7,307.4 L301.8,308.1 L300.9,308.6 L300.0,309.1 L299.0,309.5 L298.0,309.7 L297.0,309.9 L296.0,309.9 L295.1,309.9 L294.1,309.7 L293.2,309.4 L292.2,308.9 L291.4,308.4 L290.6,307.8 L289.8,307.1 L289.1,306.3 L288.5,305.4 L287.9,304.5 L287.5,303.5 L287.1,302.4 L286.8,301.3 L286.6,300.1 L286.4,298.9 L286.4,297.7 L286.5,296.5 L286.6,295.3 L286.9,294.1 L287.2,292.9 L287.6,291.8 L288.2,290.7 L288.7,289.7 L289.4,288.7 L290.1,287.8 L290.9,287.0 L291.7,286.3 L292.6,285.7 L293.5,285.1 L294.5,284.7 L295.5,284.4 L296.4,284.2 L297.4,284.1" stroke="#fff" stroke-width="1.6000000000000005" fill="none" />
<path d="M359.5,323.5 L358.5,325.9 L357.4,328.3 L356.2,330.6 L353.2,331.5 L351.9,333.6 L350.6,335.6 L349.3,337.5 L349.2,341.0 L347.6,342.8 L346.0,344.4 L344.4,346.0 L341.9,345.3 L340.3,346.6 L338.8,347.6 L337.2,348.6 L336.0,351.5 L334.3,352.2 L332.6,352.7 L331.0,353.0 L329.7,351.0 L328.2,351.1 L326.9,350.9 L325.5,350.7 L323.4,352.3 L322.1,351.6 L320.8,350.8 L319.6,349.9 L319.8,347.0 L318.9,345.9 L318.1,344.6 L317.3,343.2 L314.9,343.0 L314.3,341.3 L313.7,339.4 L313.3,337.4 L315.0,334.5 L314.8,332.5 L314.8,330.4 L314.8,328.2 L312.7,326.3 L313.0,323.9 L313.3,321.4 L313.7,318.9 L316.5,316.7 L317.1,314.3 L317.8,312.0 L318.6,309.6 L317.5,306.5 L318.5,304.1 L319.6,301.7 L320.8,299.4 L323.8,298.5 L325.1,296.4 L326.4,294.4 L327.7,292.5 L327.8,289.0 L329.4,287.2 L331.0,285.6 L332.6,284.0 L335.1,284.7 L336.7,283.4 L338.2,282.4 L339.8,281.4 L341.0,278.5 L342.7,277.8 L344.4,277.3 L346.0,277.0 L347.3,279.0 L348.8,278.9 L350.1,279.1 L351.5,279.3 L353.6,277.7 L354.9,278.4 L356.2,279.2 L357.4,280.1 L357.2,283.0 L358.1,284.1 L358.9,285.4 L359.7,286.8 L362.1,287.0 L362.7,288.7 L363.3,290.6 L363.7,292.6 L362.0,295.5 L362.2,297.5 L362.2,299.6 L362.2,301.8 L364.3,303.7 L364.0,306.1 L363.7,308.6 L363.3,311.1 L360.5,313.3 L359.9,315.7 L359.2,318.0 L358.4,320.4 L359.5,323.5Z" stroke="#000" stroke-width="1.4" fill="#fff" />
<ellipse cx="339.5" cy="315.0" rx="17.6" ry="34.2" transform="rotate(22 339.5 315.0)" stroke="#000" stroke-width="0.9" fill="#fff" />
<polygon points="327.3,333.4 327.4,330.6 327.8,327.7 328.2,324.8 328.9,321.8 329.7,318.8 330.7,315.8 331.8,312.9 333.0,310.0 334.4,307.2 335.9,304.4 337.5,301.9 339.2,299.4 341.0,297.1 342.8,295.0 344.7,293.1 346.6,291.3 348.6,289.8 350.6,288.6 352.5,287.5 354.5,286.7 356.4,286.2 358.2,285.9 360.0,285.9 361.7,286.2 363.4,286.7 365.2,287.5 368.8,289.2 374.2,291.6 375.8,292.4 377.2,293.4 378.4,294.7 379.6,296.1 380.6,297.9 381.4,299.8 382.1,301.9 382.7,304.1 383.0,306.6 383.2,309.2 383.3,311.9 383.1,314.7 382.8,317.6 382.3,320.5 381.6,323.5 380.8,326.5 379.9,329.5 378.8,332.4 377.5,335.3 376.1,338.1 374.6,340.8 373.1,343.4 371.4,345.9 369.6,348.2 367.7,350.3 365.9,352.2 363.9,353.9 361.9,355.4 360.0,356.7 358.0,357.7 356.1,358.5 354.2,359.1 352.3,359.3 350.5,359.3 348.8,359.1 347.2,358.6 338.1,354.5 336.3,353.6 334.8,352.9 333.4,351.9 332.1,350.6 331.0,349.1 329.9,347.4 329.1,345.5 328.4,343.4 327.9,341.1 327.5,338.7 327.3,336.1" stroke="#000" stroke-width="1.8" fill="#111" />
<ellipse cx="353.1" cy="321.6" rx="18.7" ry="35.3" transform="rotate(22 353.1 321.6)" stroke="#fff" stroke-width="2.1" fill="none" stroke-dasharray="1.8 2.0" stroke-dashoffset="0.0"/>
<ellipse cx="357.4" cy="323.6" rx="18.7" ry="35.3" transform="rotate(22 357.4 323.6)" stroke="#fff" stroke-width="2.1" fill="none" stroke-dasharray="1.8 2.0" stroke-dashoffset="1.7"/>
<ellipse cx="360.7" cy="325.1" rx="19.5" ry="36.1" transform="rotate(22 360.7 325.1)" stroke="#000" stroke-width="1.3" fill="#fff" />
<ellipse cx="361.7" cy="325.1" rx="14.8" ry="30.4" transform="rotate(22 361.7 325.1)" stroke="#000" stroke-width="1.0" fill="#fff" />
<path d="M390.7,337.7 L389.7,340.1 L388.6,342.5 L387.4,344.8 L384.4,345.7 L383.1,347.8 L381.8,349.8 L380.4,351.7 L380.4,355.2 L378.8,357.0 L377.2,358.6 L375.6,360.2 L373.1,359.5 L371.5,360.7 L370.0,361.8 L368.4,362.8 L367.2,365.7 L365.5,366.4 L363.8,366.9 L362.2,367.2 L360.9,365.2 L359.4,365.2 L358.1,365.1 L356.7,364.8 L354.6,366.5 L353.3,365.8 L352.0,365.0 L350.8,364.1 L351.0,361.2 L350.1,360.1 L349.3,358.8 L348.5,357.4 L346.1,357.2 L345.5,355.5 L344.9,353.6 L344.5,351.6 L346.2,348.7 L346.0,346.6 L345.9,344.5 L346.0,342.4 L343.9,340.5 L344.1,338.0 L344.5,335.6 L344.9,333.1 L347.6,330.9 L348.3,328.5 L349.0,326.2 L349.8,323.8 L348.6,320.7 L349.7,318.3 L350.8,315.9 L352.0,313.6 L355.0,312.7 L356.3,310.6 L357.6,308.6 L358.9,306.7 L359.0,303.2 L360.6,301.4 L362.2,299.8 L363.8,298.2 L366.3,298.8 L367.9,297.6 L369.4,296.6 L371.0,295.6 L372.2,292.7 L373.9,292.0 L375.5,291.5 L377.2,291.2 L378.5,293.2 L379.9,293.1 L381.3,293.3 L382.6,293.5 L384.7,291.9 L386.1,292.6 L387.4,293.3 L388.6,294.3 L388.4,297.1 L389.3,298.3 L390.1,299.6 L390.9,301.0 L393.3,301.2 L393.9,302.9 L394.4,304.8 L394.9,306.8 L393.2,309.7 L393.4,311.7 L393.4,313.8 L393.4,316.0 L395.4,317.9 L395.2,320.3 L394.9,322.8 L394.5,325.3 L391.7,327.5 L391.1,329.8 L390.4,332.2 L389.6,334.5 L390.7,337.7Z" stroke="#000" stroke-width="1.4" fill="#fff" />
<ellipse cx="370.7" cy="329.2" rx="17.6" ry="34.2" transform="rotate(22 370.7 329.2)" stroke="#000" stroke-width="0.9" fill="#fff" />
<polygon points="358.5,347.6 358.6,344.8 358.9,341.9 359.4,338.9 360.1,336.0 360.9,333.0 361.9,330.0 363.0,327.1 364.2,324.2 365.6,321.4 367.1,318.6 368.7,316.1 370.4,313.6 372.1,311.3 374.0,309.2 375.9,307.2 377.8,305.5 379.8,304.0 381.8,302.8 383.7,301.7 385.6,300.9 387.6,300.4 389.4,300.1 391.2,300.1 392.9,300.4 394.6,300.9 396.4,301.7 405.4,305.8 406.9,306.6 408.4,307.6 409.6,308.9 410.8,310.3 411.8,312.0 412.6,314.0 413.3,316.1 413.9,318.3 414.2,320.8 414.4,323.4 414.4,326.1 414.3,328.9 414.0,331.8 413.5,334.7 412.8,337.7 412.0,340.7 411.1,343.6 409.9,346.6 408.7,349.5 407.3,352.3 405.8,355.0 404.2,357.6 402.5,360.1 400.8,362.4 398.9,364.5 397.0,366.4 395.1,368.1 393.1,369.6 391.2,370.9 389.2,371.9 387.3,372.7 385.4,373.2 383.5,373.5 381.7,373.5 380.0,373.3 378.4,372.8 369.3,368.6 367.5,367.8 366.0,367.1 364.6,366.1 363.3,364.8 362.1,363.3 361.1,361.6 360.3,359.7 359.6,357.6 359.1,355.3 358.7,352.9 358.5,350.3" stroke="#000" stroke-width="1.8" fill="#111" />
<ellipse cx="384.3" cy="335.8" rx="18.7" ry="35.3" transform="rotate(22 384.3 335.8)" stroke="#fff" stroke-width="2.1" fill="none" stroke-dasharray="1.8 2.0" stroke-dashoffset="0.0"/>
<ellipse cx="388.6" cy="337.8" rx="18.7" ry="35.3" transform="rotate(22 388.6 337.8)" stroke="#fff" stroke-width="2.1" fill="none" stroke-dasharray="1.8 2.0" stroke-dashoffset="1.7"/>
<ellipse cx="391.9" cy="339.3" rx="19.5" ry="36.1" transform="rotate(22 391.9 339.3)" stroke="#000" stroke-width="1.3" fill="#fff" />
<ellipse cx="392.9" cy="339.3" rx="14.8" ry="30.4" transform="rotate(22 392.9 339.3)" stroke="#000" stroke-width="1.0" fill="#fff" />
<path d="M422.4,352.1 L421.4,354.5 L420.2,356.9 L419.0,359.2 L416.0,360.1 L414.8,362.2 L413.5,364.2 L412.1,366.1 L412.0,369.6 L410.5,371.4 L408.9,373.0 L407.2,374.6 L404.7,373.9 L403.2,375.1 L401.6,376.2 L400.1,377.2 L398.8,380.1 L397.1,380.8 L395.5,381.3 L393.8,381.6 L392.5,379.6 L391.1,379.6 L389.7,379.5 L388.4,379.3 L386.3,380.9 L384.9,380.2 L383.7,379.4 L382.5,378.5 L382.7,375.6 L381.8,374.5 L380.9,373.2 L380.2,371.8 L377.8,371.6 L377.1,369.9 L376.6,368.0 L376.1,366.0 L377.8,363.1 L377.7,361.1 L377.6,359.0 L377.6,356.8 L375.6,354.9 L375.8,352.5 L376.1,350.0 L376.6,347.5 L379.3,345.3 L379.9,342.9 L380.6,340.6 L381.4,338.2 L380.3,335.1 L381.3,332.7 L382.4,330.3 L383.6,328.0 L386.7,327.1 L387.9,325.0 L389.2,323.0 L390.6,321.1 L390.6,317.6 L392.2,315.8 L393.8,314.2 L395.4,312.6 L398.0,313.3 L399.5,312.0 L401.1,311.0 L402.6,310.0 L403.9,307.1 L405.5,306.4 L407.2,305.9 L408.8,305.6 L410.2,307.6 L411.6,307.5 L413.0,307.7 L414.3,307.9 L416.4,306.3 L417.7,307.0 L419.0,307.8 L420.2,308.7 L420.0,311.6 L420.9,312.7 L421.8,314.0 L422.5,315.4 L424.9,315.6 L425.6,317.3 L426.1,319.2 L426.5,321.2 L424.8,324.1 L425.0,326.1 L425.1,328.2 L425.1,330.4 L427.1,332.3 L426.9,334.7 L426.6,337.2 L426.1,339.7 L423.4,341.9 L422.8,344.3 L422.0,346.6 L421.2,349.0 L422.4,352.1Z" stroke="#000" stroke-width="1.4" fill="#fff" />
<ellipse cx="402.3" cy="343.6" rx="17.6" ry="34.2" transform="rotate(22 402.3 343.6)" stroke="#000" stroke-width="0.9" fill="#fff" />
<polygon points="390.1,362.0 390.3,359.2 390.6,356.3 391.1,353.4 391.7,350.4 392.6,347.4 393.5,344.4 394.6,341.5 395.9,338.6 397.2,335.8 398.7,333.1 400.3,330.4 402.0,328.0 403.8,325.7 405.6,323.6 407.5,321.6 409.5,319.9 411.4,318.4 413.4,317.1 415.4,316.1 417.3,315.3 419.2,314.8 421.1,314.5 422.9,314.5 424.6,314.8 426.2,315.3 435.3,319.4 437.1,320.2 438.6,321.0 440.0,322.0 441.3,323.3 442.4,324.7 443.4,326.4 444.3,328.4 445.0,330.5 445.5,332.8 445.9,335.2 446.1,337.8 446.1,340.5 445.9,343.3 445.6,346.2 445.1,349.1 444.5,352.1 443.7,355.1 442.7,358.1 441.6,361.0 440.4,363.9 439.0,366.7 437.5,369.4 435.9,372.0 434.2,374.5 432.4,376.8 430.6,378.9 428.7,380.8 426.8,382.5 424.8,384.0 422.8,385.3 420.9,386.3 418.9,387.1 417.0,387.6 415.2,387.9 413.4,387.9 411.6,387.7 410.0,387.2 408.2,386.4 404.6,384.7 399.2,382.2 397.6,381.5 396.2,380.4 394.9,379.2 393.8,377.7 392.8,376.0 391.9,374.1 391.2,372.0 390.7,369.7 390.4,367.3 390.2,364.7" stroke="#000" stroke-width="1.8" fill="#111" />
<ellipse cx="415.9" cy="350.2" rx="18.7" ry="35.3" transform="rotate(22 415.9 350.2)" stroke="#fff" stroke-width="2.1" fill="none" stroke-dasharray="1.8 2.0" stroke-dashoffset="0.0"/>
<ellipse cx="420.3" cy="352.2" rx="18.7" ry="35.3" transform="rotate(22 420.3 352.2)" stroke="#fff" stroke-width="2.1" fill="none" stroke-dasharray="1.8 2.0" stroke-dashoffset="1.7"/>
<ellipse cx="423.6" cy="353.7" rx="19.5" ry="36.1" transform="rotate(22 423.6 353.7)" stroke="#000" stroke-width="1.3" fill="#fff" />
<ellipse cx="424.6" cy="353.7" rx="14.8" ry="30.4" transform="rotate(22 424.6 353.7)" stroke="#000" stroke-width="1.0" fill="#fff" />
<path d="M454.0,366.5 L453.0,368.9 L451.9,371.3 L450.7,373.6 L447.7,374.5 L446.4,376.6 L445.1,378.6 L443.8,380.5 L443.7,384.0 L442.1,385.8 L440.5,387.4 L438.9,389.0 L436.4,388.3 L434.8,389.6 L433.3,390.6 L431.7,391.6 L430.5,394.5 L428.8,395.2 L427.1,395.7 L425.5,396.0 L424.2,394.0 L422.7,394.1 L421.4,393.9 L420.0,393.7 L417.9,395.3 L416.6,394.6 L415.3,393.8 L414.1,392.9 L414.3,390.0 L413.4,388.9 L412.6,387.6 L411.8,386.2 L409.4,386.0 L408.8,384.3 L408.2,382.4 L407.8,380.4 L409.5,377.5 L409.3,375.5 L409.3,373.4 L409.3,371.2 L407.2,369.3 L407.5,366.9 L407.8,364.4 L408.2,361.9 L411.0,359.7 L411.6,357.3 L412.3,355.0 L413.1,352.6 L412.0,349.5 L413.0,347.1 L414.1,344.7 L415.3,342.4 L418.3,341.5 L419.6,339.4 L420.9,337.4 L422.2,335.5 L422.3,332.0 L423.9,330.2 L425.5,328.6 L427.1,327.0 L429.6,327.7 L431.2,326.4 L432.7,325.4 L434.3,324.4 L435.5,321.5 L437.2,320.8 L438.9,320.3 L440.5,320.0 L441.8,322.0 L443.3,321.9 L444.6,322.1 L446.0,322.3 L448.1,320.7 L449.4,321.4 L450.7,322.2 L451.9,323.1 L451.7,326.0 L452.6,327.1 L453.4,328.4 L454.2,329.8 L456.6,330.0 L457.2,331.7 L457.8,333.6 L458.2,335.6 L456.5,338.5 L456.7,340.5 L456.7,342.6 L456.7,344.8 L458.8,346.7 L458.5,349.1 L458.2,351.6 L457.8,354.1 L455.0,356.3 L454.4,358.7 L453.7,361.0 L452.9,363.4 L454.0,366.5Z" stroke="#000" stroke-width="1.5" fill="#fff" />
<ellipse cx="433.5" cy="358.0" rx="17.6" ry="34.2" transform="rotate(22 433.5 358.0)" stroke="#000" stroke-width="1.0" fill="none" />
<ellipse cx="432.0" cy="359.0" rx="14.5" ry="27.5" transform="rotate(26 432.0 359.0)" stroke="#000" stroke-width="2.2" fill="#fff" />
<path d="M426.2,378.2 L425.6,377.7 L425.1,377.1 L424.7,376.4 L424.3,375.5 L424.0,374.6 L423.8,373.6 L423.6,372.5 L423.5,371.3 L423.5,370.1 L423.6,368.7 L423.7,367.4 L423.9,365.9 L424.2,364.5 L424.5,362.9 L425.0,361.4 L425.5,359.9 L426.0,358.3 L426.6,356.7 L427.3,355.2 L428.0,353.6 L428.8,352.1 L429.6,350.6 L430.5,349.2 L431.4,347.8 L432.3,346.4 L433.2,345.1 L434.2,343.9 L435.2,342.8 L436.2,341.8 L437.2,340.8 L438.2,339.9 L439.2,339.2 L440.2,338.5 L441.1,338.0 L442.1,337.5 L443.0,337.2 L443.9,337.0 L444.7,336.9 L445.5,336.9 L446.3,337.0" stroke="#000" stroke-width="5.5" fill="none" stroke-dasharray="2.5 1.3"/>
<path d="M429.0,376.2 L428.6,375.7 L428.2,375.0 L427.9,374.3 L427.6,373.4 L427.4,372.5 L427.2,371.6 L427.1,370.5 L427.1,369.4 L427.2,368.2 L427.3,367.0 L427.4,365.8 L427.6,364.4 L427.9,363.1 L428.3,361.7 L428.7,360.3 L429.1,358.9 L429.6,357.5 L430.2,356.1 L430.8,354.7 L431.5,353.3 L432.2,352.0 L432.9,350.6 L433.7,349.3 L434.5,348.0 L435.3,346.8 L436.1,345.7 L437.0,344.5 L437.9,343.5 L438.8,342.5 L439.7,341.6 L440.6,340.8 L441.5,340.0 L442.3,339.4 L443.2,338.8 L444.1,338.3 L444.9,337.9 L445.7,337.6 L446.5,337.4 L447.3,337.3 L448.0,337.3" stroke="#000" stroke-width="1.5" fill="none" />
<path d="M496.8,354.7 L498.4,356.6 L499.7,358.7 L500.9,361.1 L501.8,363.6 L502.5,366.3 L503.0,369.1 L503.2,372.1 L503.2,375.1 L503.0,378.2 L502.5,381.4 L501.8,384.6 L500.9,387.7 L499.8,390.8 L498.5,393.8 L497.0,396.7 L495.3,399.4 L493.4,402.0 L491.4,404.4 L489.3,406.6 L487.1,408.6 L484.7,410.3 L482.4,411.7 L479.9,412.9 L477.5,413.8 L475.1,414.4 L472.7,414.7 L470.3,414.7 L468.0,414.4 L465.9,413.7 L463.8,412.8 L461.8,411.6 L460.0,410.2 L458.4,408.4 L457.0,406.4 L455.7,404.2 L454.7,401.8 L453.9,399.2 L453.3,396.4 L452.9,393.5 L452.8,390.5 L452.9,387.4 L453.2,384.3 L453.8,381.1 L454.6,378.0 L455.6,374.9 L456.8,371.8 L458.2,368.9 L459.8,366.0 L461.6,363.4 L463.5,360.8 L465.6,358.5 L467.8,356.4 L470.0,354.6 L472.4,353.0 L474.8,351.7 L477.2,350.6 L479.6,349.9 L482.1,349.4 L484.4,349.3 L486.8,349.4" stroke="#000" stroke-width="6.3" fill="none" stroke-linecap="round"/>
<path d="M496.8,354.7 L498.4,356.6 L499.7,358.7 L500.9,361.1 L501.8,363.6 L502.5,366.3 L503.0,369.1 L503.2,372.1 L503.2,375.1 L503.0,378.2 L502.5,381.4 L501.8,384.6 L500.9,387.7 L499.8,390.8 L498.5,393.8 L497.0,396.7 L495.3,399.4 L493.4,402.0 L491.4,404.4 L489.3,406.6 L487.1,408.6 L484.7,410.3 L482.4,411.7 L479.9,412.9 L477.5,413.8 L475.1,414.4 L472.7,414.7 L470.3,414.7 L468.0,414.4 L465.9,413.7 L463.8,412.8 L461.8,411.6 L460.0,410.2 L458.4,408.4 L457.0,406.4 L455.7,404.2 L454.7,401.8 L453.9,399.2 L453.3,396.4 L452.9,393.5 L452.8,390.5 L452.9,387.4 L453.2,384.3 L453.8,381.1 L454.6,378.0 L455.6,374.9 L456.8,371.8 L458.2,368.9 L459.8,366.0 L461.6,363.4 L463.5,360.8 L465.6,358.5 L467.8,356.4 L470.0,354.6 L472.4,353.0 L474.8,351.7 L477.2,350.6 L479.6,349.9 L482.1,349.4 L484.4,349.3 L486.8,349.4" stroke="#fff" stroke-width="1.7000000000000002" fill="none" />
<polygon points="13.5,364.0 104.0,401.0 97.0,416.5 8.0,378.0" stroke="#000" stroke-width="2.0" fill="#fff" />
<ellipse cx="10.5" cy="371.0" rx="3.5" ry="7.5" transform="rotate(22 10.5 371.0)" stroke="#000" stroke-width="1.8" fill="#fff" />
<line x1="31.0" y1="372.6" x2="27.0" y2="386.6" stroke="#000" stroke-width="1.2" />
<line x1="33.6" y1="373.6" x2="29.6" y2="387.6" stroke="#000" stroke-width="1.2" />
<line x1="36.2" y1="374.7" x2="32.2" y2="388.7" stroke="#000" stroke-width="1.2" />
<line x1="38.8" y1="375.8" x2="34.8" y2="389.8" stroke="#000" stroke-width="1.2" />
<line x1="41.4" y1="376.8" x2="37.4" y2="390.8" stroke="#000" stroke-width="1.2" />
<line x1="44.0" y1="377.9" x2="40.0" y2="391.9" stroke="#000" stroke-width="1.2" />
<line x1="28.0" y1="371.0" x2="44.0" y2="378.0" stroke="#000" stroke-width="1.4" />
<line x1="25.0" y1="384.0" x2="41.0" y2="391.0" stroke="#000" stroke-width="1.4" />
<line x1="95.0" y1="396.8" x2="91.0" y2="414.8" stroke="#000" stroke-width="1.3" />
<line x1="98.0" y1="398.1" x2="94.0" y2="416.1" stroke="#000" stroke-width="1.3" />
<line x1="101.0" y1="399.3" x2="97.0" y2="417.3" stroke="#000" stroke-width="1.3" />
<line x1="104.0" y1="400.5" x2="100.0" y2="418.5" stroke="#000" stroke-width="1.3" />
<line x1="107.0" y1="401.7" x2="103.0" y2="419.7" stroke="#000" stroke-width="1.3" />
<ellipse cx="50.0" cy="441.0" rx="6.0" ry="9.0" transform="rotate(10 50.0 441.0)" stroke="#000" stroke-width="2.0" fill="#fff" />
<polygon points="51.9,464.7 52.0,461.6 52.3,458.5 52.8,455.4 53.4,452.4 54.2,449.3 55.1,446.4 56.2,443.5 57.3,440.8 58.6,438.2 60.0,435.8 61.5,433.5 63.1,431.4 64.8,429.6 66.5,427.9 68.3,426.5 70.1,425.4 72.0,424.5 73.8,423.8 75.7,423.5 77.5,423.4 79.2,423.6 81.0,424.0 96.0,428.0 97.7,428.7 99.3,429.7 100.8,430.9 102.2,432.4 103.5,434.1 104.7,436.0 105.8,438.1 106.7,440.4 107.5,442.9 108.1,445.6 108.6,448.4 108.9,451.2 109.1,454.2 109.1,457.3 109.0,460.4 108.7,463.5 108.2,466.6 107.6,469.6 106.8,472.7 105.9,475.6 104.8,478.5 103.7,481.2 102.4,483.8 101.0,486.2 99.5,488.5 97.9,490.6 96.2,492.4 94.5,494.1 92.7,495.5 90.9,496.6 89.0,497.5 87.2,498.2 85.3,498.5 83.5,498.6 81.8,498.4 80.0,498.0 65.0,494.0 63.3,493.3 61.7,492.3 60.2,491.1 58.8,489.6 57.5,487.9 56.3,486.0 55.2,483.9 54.3,481.6 53.5,479.1 52.9,476.4 52.4,473.6 52.1,470.8 51.9,467.8" stroke="#000" stroke-width="2.0" fill="#fff" />
<polygon points="65.5,497.9 59.4,494.7 71.4,497.9 77.5,501.1" stroke="#000" stroke-width="1.4" fill="#fff" />
<polygon points="56.9,492.2 52.7,484.6 64.7,487.8 68.9,495.4" stroke="#000" stroke-width="1.4" fill="#fff" />
<polygon points="51.3,480.2 49.8,469.6 61.8,472.8 63.3,483.4" stroke="#000" stroke-width="1.4" fill="#fff" />
<polygon points="49.8,464.3 51.3,452.7 63.3,455.9 61.8,467.5" stroke="#000" stroke-width="1.4" fill="#fff" />
<polygon points="52.6,447.4 56.8,437.0 68.8,440.2 64.6,450.6" stroke="#000" stroke-width="1.4" fill="#fff" />
<polygon points="59.2,432.7 65.3,425.3 77.3,428.5 71.2,435.9" stroke="#000" stroke-width="1.4" fill="#fff" />
<polygon points="68.4,422.9 75.3,420.0 87.3,423.2 80.4,426.1" stroke="#000" stroke-width="1.4" fill="#fff" />
<polygon points="78.5,419.8 84.9,422.0 96.9,425.2 90.5,423.0" stroke="#000" stroke-width="1.4" fill="#fff" />
<ellipse cx="88.0" cy="463.0" rx="20.5" ry="36.0" transform="rotate(10 88.0 463.0)" stroke="#000" stroke-width="2.0" fill="#fff" />
<ellipse cx="90.0" cy="463.0" rx="16.5" ry="29.0" transform="rotate(10 90.0 463.0)" stroke="#000" stroke-width="1.4" fill="none" />
<ellipse cx="93.0" cy="464.0" rx="12.5" ry="23.0" transform="rotate(10 93.0 464.0)" stroke="#000" stroke-width="1.0" fill="none" />
<line x1="84.0" y1="449.0" x2="88.0" y2="441.0" stroke="#000" stroke-width="1.5" />
<line x1="88.0" y1="450.5" x2="92.0" y2="442.5" stroke="#000" stroke-width="1.5" />
<line x1="92.0" y1="452.0" x2="96.0" y2="444.0" stroke="#000" stroke-width="1.5" />
<line x1="96.0" y1="453.5" x2="100.0" y2="445.5" stroke="#000" stroke-width="1.5" />
<line x1="100.0" y1="455.0" x2="104.0" y2="447.0" stroke="#000" stroke-width="1.5" />
<line x1="78.0" y1="484.0" x2="82.0" y2="478.0" stroke="#000" stroke-width="1.3" />
<line x1="82.0" y1="485.5" x2="86.0" y2="479.5" stroke="#000" stroke-width="1.3" />
<line x1="86.0" y1="487.0" x2="90.0" y2="481.0" stroke="#000" stroke-width="1.3" />
<line x1="90.0" y1="488.5" x2="94.0" y2="482.5" stroke="#000" stroke-width="1.3" />
<polygon points="104.0,433.3 104.1,430.3 104.4,427.3 104.8,424.3 105.4,421.3 106.2,418.3 107.1,415.5 108.2,412.7 109.4,410.1 110.7,407.5 112.1,405.2 113.7,403.0 115.3,401.0 117.0,399.2 118.8,397.6 120.7,396.3 122.6,395.2 124.5,394.3 126.4,393.7 128.3,393.4 130.2,393.3 132.1,393.5 133.9,394.0 146.9,398.0 148.7,398.7 150.3,399.7 151.9,400.9 153.5,402.3 154.8,404.0 156.1,405.9 157.3,408.0 158.3,410.3 159.1,412.7 159.8,415.3 160.4,418.0 160.8,420.8 161.0,423.7 161.0,426.7 160.9,429.7 160.6,432.7 160.2,435.7 159.6,438.7 158.8,441.7 157.9,444.5 156.8,447.3 155.6,449.9 154.3,452.5 152.9,454.8 151.3,457.0 149.7,459.0 147.9,460.8 146.2,462.4 144.3,463.7 142.4,464.8 140.5,465.7 138.6,466.3 136.7,466.6 134.8,466.7 132.9,466.5 131.1,466.0 118.1,462.0 116.3,461.3 114.7,460.3 113.0,459.1 111.5,457.7 110.2,456.0 108.9,454.1 107.7,452.0 106.7,449.7 105.9,447.3 105.2,444.7 104.6,442.0 104.2,439.2 104.0,436.3" stroke="#000" stroke-width="2.0" fill="#fff" />
<polygon points="120.7,466.1 114.1,463.9 124.5,467.1 131.1,469.3" stroke="#000" stroke-width="1.4" fill="#fff" />
<polygon points="111.2,461.8 106.3,455.1 116.7,458.3 121.6,465.0" stroke="#000" stroke-width="1.4" fill="#fff" />
<polygon points="104.5,451.1 102.2,441.2 112.6,444.4 114.9,454.3" stroke="#000" stroke-width="1.4" fill="#fff" />
<polygon points="101.8,436.1 102.5,424.9 112.9,428.1 112.2,439.3" stroke="#000" stroke-width="1.4" fill="#fff" />
<polygon points="103.6,419.6 107.3,409.1 117.7,412.3 114.0,422.8" stroke="#000" stroke-width="1.4" fill="#fff" />
<polygon points="109.6,404.7 115.6,396.9 126.0,400.1 120.0,407.9" stroke="#000" stroke-width="1.4" fill="#fff" />
<polygon points="118.7,394.1 125.8,390.5 136.2,393.7 129.1,397.3" stroke="#000" stroke-width="1.4" fill="#fff" />
<polygon points="129.2,389.9 136.1,391.1 146.5,394.3 139.6,393.1" stroke="#000" stroke-width="1.4" fill="#fff" />
<ellipse cx="139.0" cy="432.0" rx="21.5" ry="35.0" transform="rotate(10 139.0 432.0)" stroke="#000" stroke-width="2.0" fill="#fff" />
<ellipse cx="140.0" cy="432.0" rx="18.0" ry="29.0" transform="rotate(10 140.0 432.0)" stroke="#000" stroke-width="1.5" fill="none" />
<ellipse cx="142.0" cy="433.0" rx="15.0" ry="25.0" transform="rotate(10 142.0 433.0)" stroke="#000" stroke-width="1.0" fill="none" />
<polygon points="132.5,435.8 132.6,433.1 132.9,430.3 133.3,427.5 133.9,424.8 134.6,422.1 135.4,419.5 136.4,417.0 137.5,414.5 138.7,412.2 140.1,410.1 141.5,408.1 143.0,406.3 144.6,404.6 146.2,403.2 148.0,402.0 149.7,401.0 151.5,400.2 153.3,399.7 155.1,399.4 156.8,399.3 158.6,399.5 160.2,399.9 171.2,403.9 172.9,404.6 174.5,405.5 176.0,406.6 177.4,407.9 178.7,409.4 179.8,411.2 180.9,413.1 181.9,415.2 182.7,417.4 183.3,419.8 183.8,422.2 184.2,424.8 184.4,427.5 184.5,430.2 184.4,432.9 184.1,435.7 183.7,438.5 183.1,441.2 182.4,443.9 181.6,446.5 180.6,449.0 179.5,451.5 178.3,453.8 176.9,455.9 175.5,457.9 174.0,459.7 172.4,461.4 170.8,462.8 169.0,464.0 167.3,465.0 165.5,465.8 163.7,466.3 161.9,466.6 160.2,466.7 158.4,466.5 156.8,466.1 145.8,462.1 144.1,461.4 142.5,460.5 141.0,459.4 139.6,458.1 138.3,456.6 137.2,454.8 136.1,452.9 135.1,450.8 134.3,448.6 133.7,446.2 133.2,443.8 132.8,441.2 132.6,438.5" stroke="#000" stroke-width="2.0" fill="#fff" />
<polygon points="142.7,464.2 137.3,459.6 146.1,462.8 151.5,467.4" stroke="#000" stroke-width="1.4" fill="#fff" />
<polygon points="135.2,456.6 131.9,448.5 140.7,451.7 144.0,459.8" stroke="#000" stroke-width="1.4" fill="#fff" />
<polygon points="131.0,444.2 130.6,434.2 139.4,437.4 139.8,447.4" stroke="#000" stroke-width="1.4" fill="#fff" />
<polygon points="131.0,429.3 133.4,419.2 142.2,422.4 139.8,432.5" stroke="#000" stroke-width="1.4" fill="#fff" />
<polygon points="135.1,414.7 139.8,406.4 148.6,409.6 143.9,417.9" stroke="#000" stroke-width="1.4" fill="#fff" />
<polygon points="142.5,403.2 148.8,398.3 157.6,401.5 151.3,406.4" stroke="#000" stroke-width="1.4" fill="#fff" />
<polygon points="151.9,396.9 158.5,396.2 167.3,399.4 160.7,400.1" stroke="#000" stroke-width="1.4" fill="#fff" />
<ellipse cx="164.0" cy="435.0" rx="20.0" ry="32.0" transform="rotate(10 164.0 435.0)" stroke="#000" stroke-width="2.0" fill="#fff" />
<line x1="152.0" y1="420.0" x2="158.0" y2="410.0" stroke="#000" stroke-width="1.6" />
<line x1="156.5" y1="421.6" x2="162.5" y2="411.6" stroke="#000" stroke-width="1.6" />
<line x1="161.0" y1="423.2" x2="167.0" y2="413.2" stroke="#000" stroke-width="1.6" />
<line x1="165.5" y1="424.8" x2="171.5" y2="414.8" stroke="#000" stroke-width="1.6" />
<line x1="170.0" y1="426.4" x2="176.0" y2="416.4" stroke="#000" stroke-width="1.6" />
<line x1="174.5" y1="428.0" x2="180.5" y2="418.0" stroke="#000" stroke-width="1.6" />
<line x1="179.0" y1="429.6" x2="185.0" y2="419.6" stroke="#000" stroke-width="1.6" />
<polygon points="94.0,458.0 142.0,471.0 138.0,486.0 90.0,473.0" stroke="#000" stroke-width="2.0" fill="#fff" />
<polygon points="107.0,466.4 107.0,465.4 107.1,464.4 107.3,463.4 107.5,462.3 107.7,461.3 108.0,460.3 108.4,459.3 108.7,458.4 109.2,457.4 109.6,456.6 110.1,455.8 110.6,455.0 111.2,454.3 111.8,453.6 112.3,453.0 112.9,452.5 113.5,452.1 114.2,451.8 114.8,451.5 115.4,451.4 116.0,451.3 116.5,451.3 117.1,451.4 131.1,456.4 131.6,456.6 132.2,456.9 132.6,457.2 133.1,457.7 133.5,458.2 133.8,458.8 134.2,459.5 134.4,460.2 134.6,461.0 134.8,461.8 134.9,462.7 135.0,463.7 135.0,464.6 135.0,465.6 134.9,466.6 134.7,467.6 134.5,468.7 134.3,469.7 134.0,470.7 133.6,471.7 133.3,472.6 132.8,473.6 132.4,474.4 131.9,475.2 131.4,476.0 130.8,476.7 130.2,477.4 129.7,478.0 129.1,478.5 128.4,478.9 127.8,479.2 127.2,479.5 126.6,479.6 126.0,479.7 125.5,479.7 124.9,479.6 110.9,474.6 110.4,474.4 109.8,474.1 109.4,473.8 108.9,473.3 108.5,472.8 108.2,472.2 107.8,471.5 107.6,470.8 107.4,470.0 107.2,469.2 107.1,468.3 107.0,467.3" stroke="#000" stroke-width="1.8" fill="#fff" />
<ellipse cx="128.0" cy="468.0" rx="6.5" ry="12.0" transform="rotate(15 128.0 468.0)" stroke="#000" stroke-width="1.8" fill="#fff" />
<line x1="100.0" y1="466.0" x2="128.0" y2="474.0" stroke="#000" stroke-width="1.2" />
<polygon points="157.7,445.3 157.8,443.4 157.9,441.5 158.2,439.6 158.6,437.7 159.1,435.8 159.7,434.0 160.3,432.3 161.1,430.6 162.0,429.1 162.9,427.6 163.9,426.2 164.9,425.0 166.1,423.8 167.2,422.9 168.4,422.0 169.6,421.3 170.9,420.8 172.1,420.4 173.4,420.2 174.6,420.2 175.8,420.3 177.0,420.6 191.0,424.6 192.2,425.1 193.3,425.7 194.3,426.5 195.3,427.4 196.2,428.4 197.0,429.6 197.8,431.0 198.4,432.4 199.0,433.9 199.5,435.6 199.8,437.3 200.1,439.1 200.3,440.9 200.3,442.7 200.2,444.6 200.1,446.5 199.8,448.4 199.4,450.3 198.9,452.2 198.3,454.0 197.7,455.7 196.9,457.4 196.0,458.9 195.1,460.4 194.1,461.8 193.1,463.0 191.9,464.2 190.8,465.1 189.6,466.0 188.4,466.7 187.1,467.2 185.9,467.6 184.6,467.8 183.4,467.8 182.2,467.7 181.0,467.4 167.0,463.4 165.8,462.9 164.7,462.3 163.7,461.5 162.7,460.6 161.8,459.6 161.0,458.4 160.2,457.0 159.6,455.6 159.0,454.1 158.5,452.4 158.2,450.7 157.9,448.9 157.7,447.1" stroke="#000" stroke-width="2.0" fill="#fff" />
<ellipse cx="186.0" cy="446.0" rx="14.0" ry="22.0" transform="rotate(10 186.0 446.0)" stroke="#000" stroke-width="2.0" fill="#fff" />
<ellipse cx="186.0" cy="446.0" rx="10.5" ry="17.0" transform="rotate(10 186.0 446.0)" stroke="#000" stroke-width="1.6" fill="#fff" />
<ellipse cx="188.0" cy="446.0" rx="7.0" ry="12.0" transform="rotate(10 188.0 446.0)" stroke="#000" stroke-width="1.4" fill="#fff" />
<path d="M186.1,463.2 L185.7,463.4 L185.4,463.6 L185.1,463.8 L184.8,463.9 L184.5,464.1 L184.2,464.2 L183.8,464.3 L183.5,464.4 L183.2,464.5 L182.9,464.6 L182.6,464.7 L182.2,464.7 L181.9,464.8 L181.6,464.8 L181.3,464.8 L181.0,464.8 L180.6,464.8 L180.3,464.8 L180.0,464.8 L179.7,464.7 L179.4,464.7 L179.1,464.6 L178.8,464.5 L178.5,464.4 L178.2,464.3 L177.9,464.2 L177.6,464.0 L177.3,463.9 L177.0,463.7 L176.8,463.5 L176.5,463.3 L176.2,463.2 L175.9,462.9 L175.7,462.7 L175.4,462.5 L175.2,462.2 L174.9,462.0 L174.7,461.7 L174.5,461.4 L174.2,461.2 L174.0,460.9 L173.8,460.6 L173.6,460.2 L173.4,459.9 L173.2,459.6 L173.0,459.2 L172.8,458.9 L172.6,458.5 L172.5,458.1 L172.3,457.8 L172.2,457.4 L172.0,457.0 L171.9,456.6 L171.7,456.2 L171.6,455.7 L171.5,455.3 L171.4,454.9 L171.3,454.4 L171.2,454.0 L171.1,453.6" stroke="#000" stroke-width="3" fill="none" stroke-dasharray="1.5 1.5"/>
<ellipse cx="281.0" cy="445.0" rx="24.0" ry="38.0" transform="rotate(10 281.0 445.0)" stroke="#000" stroke-width="2.0" fill="#fff" />
<ellipse cx="280.0" cy="445.0" rx="19.5" ry="32.0" transform="rotate(10 280.0 445.0)" stroke="#000" stroke-width="1.2" fill="none" />
<path d="M259.6,428.8 L260.1,427.7 L260.6,426.6 L261.1,425.6 L261.6,424.6 L262.1,423.6 L262.7,422.6 L263.3,421.7 L263.8,420.8 L264.4,419.9 L265.1,419.1 L265.7,418.2 L266.3,417.4 L267.0,416.7 L267.7,415.9 L268.4,415.3 L269.1,414.6 L269.8,414.0 L270.5,413.4 L271.2,412.8 L271.9,412.3 L272.7,411.9 L273.4,411.4 L274.1,411.0 L274.9,410.7 L275.6,410.4 L276.4,410.1 L277.1,409.9 L277.9,409.7 L278.6,409.5 L279.4,409.4 L280.1,409.4 L280.9,409.3 L281.6,409.4 L282.4,409.4 L283.1,409.5 L283.8,409.7 L284.5,409.9 L285.2,410.1 L285.9,410.4 L286.6,410.7 L287.2,411.0 L287.9,411.4 L288.5,411.9 L289.2,412.3 L289.8,412.9 L290.4,413.4 L291.0,414.0 L291.5,414.6 L292.1,415.3 L292.6,416.0 L293.1,416.7 L293.6,417.5 L294.1,418.3 L294.5,419.1 L294.9,419.9 L295.4,420.8 L295.7,421.7 L296.1,422.7 L296.4,423.6 L296.7,424.6" stroke="#000" stroke-width="5" fill="none" stroke-dasharray="1.6 1.6"/>
<ellipse cx="281.0" cy="446.0" rx="7.0" ry="8.5" transform="rotate(10 281.0 446.0)" stroke="#000" stroke-width="1.8" fill="#fff" />
<ellipse cx="281.0" cy="446.0" rx="3.5" ry="4.5" transform="rotate(10 281.0 446.0)" stroke="#000" stroke-width="1.2" fill="#222" />
<polygon points="187.7,404.5 187.8,403.6 187.8,402.8 188.0,401.9 188.2,401.1 188.5,400.3 188.8,399.5 189.2,398.7 189.6,397.9 190.1,397.2 190.6,396.6 191.2,395.9 191.8,395.4 192.4,394.9 193.1,394.4 193.8,394.0 194.5,393.7 195.2,393.5 195.9,393.3 196.6,393.2 197.4,393.2 198.1,393.3 198.8,393.4 199.4,393.6 213.4,398.6 214.1,398.9 214.7,399.2 215.2,399.6 215.8,400.1 216.3,400.6 216.7,401.2 217.1,401.9 217.4,402.6 217.7,403.3 218.0,404.1 218.1,404.9 218.2,405.7 218.3,406.5 218.2,407.4 218.2,408.2 218.0,409.1 217.8,409.9 217.5,410.7 217.2,411.5 216.8,412.3 216.4,413.1 215.9,413.8 215.4,414.4 214.8,415.1 214.2,415.6 213.6,416.1 212.9,416.6 212.2,417.0 211.5,417.3 210.8,417.5 210.1,417.7 209.4,417.8 208.6,417.8 207.9,417.7 207.2,417.6 206.6,417.4 192.6,412.4 191.9,412.1 191.3,411.8 190.8,411.4 190.2,410.9 189.7,410.4 189.3,409.8 188.9,409.1 188.6,408.4 188.3,407.7 188.0,406.9 187.9,406.1 187.8,405.3" stroke="#000" stroke-width="1.8" fill="#fff" />
<ellipse cx="210.0" cy="408.0" rx="8.0" ry="10.0" transform="rotate(20 210.0 408.0)" stroke="#000" stroke-width="1.8" fill="#fff" />
<line x1="198.0" y1="396.0" x2="196.0" y2="414.0" stroke="#000" stroke-width="1.2" />
<line x1="201.0" y1="397.0" x2="199.0" y2="415.0" stroke="#000" stroke-width="1.2" />
<line x1="204.0" y1="398.0" x2="202.0" y2="416.0" stroke="#000" stroke-width="1.2" />
<line x1="207.0" y1="399.0" x2="205.0" y2="417.0" stroke="#000" stroke-width="1.2" />
<polygon points="210.7,423.2 210.7,420.4 211.0,417.7 211.3,415.0 211.9,412.3 212.6,409.7 213.5,407.1 214.6,404.6 215.8,402.3 217.1,400.0 218.6,397.9 220.2,396.0 221.8,394.2 223.6,392.7 225.5,391.3 227.4,390.1 229.4,389.2 231.4,388.5 233.4,388.0 235.4,387.8 237.5,387.8 239.5,388.0 241.4,388.4 258.4,394.4 260.3,395.1 262.1,396.1 263.9,397.2 265.5,398.6 267.1,400.1 268.5,401.9 269.8,403.8 270.9,405.9 271.9,408.1 272.7,410.5 273.4,412.9 273.8,415.5 274.2,418.1 274.3,420.8 274.3,423.6 274.0,426.3 273.6,429.0 273.1,431.7 272.4,434.3 271.5,436.9 270.4,439.4 269.2,441.7 267.9,444.0 266.4,446.1 264.8,448.0 263.1,449.8 261.4,451.3 259.5,452.7 257.6,453.9 255.6,454.8 253.6,455.5 251.6,456.0 249.6,456.2 247.5,456.2 245.5,456.0 243.6,455.6 226.6,449.6 224.7,448.9 222.8,447.9 221.1,446.8 219.5,445.4 217.9,443.9 216.5,442.1 215.2,440.2 214.1,438.1 213.1,435.9 212.3,433.5 211.7,431.1 211.2,428.5 210.8,425.9" stroke="#000" stroke-width="2.0" fill="#fff" />
<polygon points="223.1,451.6 216.8,446.9 229.6,451.4 235.9,456.1" stroke="#000" stroke-width="1.4" fill="#fff" />
<polygon points="214.3,443.8 210.4,435.8 223.1,440.3 227.1,448.3" stroke="#000" stroke-width="1.4" fill="#fff" />
<polygon points="209.2,431.4 208.4,421.5 221.1,426.0 222.0,435.9" stroke="#000" stroke-width="1.4" fill="#fff" />
<polygon points="208.8,416.7 211.2,406.8 223.9,411.3 221.5,421.2" stroke="#000" stroke-width="1.4" fill="#fff" />
<polygon points="213.0,402.4 218.2,394.3 231.0,398.8 225.8,406.9" stroke="#000" stroke-width="1.4" fill="#fff" />
<polygon points="221.2,391.2 228.3,386.5 241.0,391.0 234.0,395.7" stroke="#000" stroke-width="1.4" fill="#fff" />
<polygon points="229.6,386.0 237.2,384.6 249.9,389.1 242.3,390.5" stroke="#000" stroke-width="1.4" fill="#fff" />
<ellipse cx="251.0" cy="425.0" rx="23.0" ry="31.5" transform="rotate(10 251.0 425.0)" stroke="#000" stroke-width="2.0" fill="#fff" />
<ellipse cx="252.0" cy="426.0" rx="18.5" ry="26.0" transform="rotate(10 252.0 426.0)" stroke="#000" stroke-width="1.3" fill="none" />
<polygon points="122.5,496.4 122.6,494.1 122.9,491.7 123.2,489.4 123.7,487.1 124.3,484.8 124.9,482.6 125.7,480.5 126.6,478.4 127.5,476.4 128.6,474.6 129.7,472.9 130.9,471.4 132.1,470.0 133.4,468.7 134.7,467.7 136.0,466.8 137.3,466.1 138.7,465.6 140.1,465.4 141.4,465.3 142.7,465.4 144.0,465.7 158.0,470.7 159.2,471.3 160.3,472.0 161.5,472.9 162.5,474.0 163.4,475.3 164.3,476.7 165.1,478.3 165.8,480.0 166.3,481.9 166.8,483.9 167.1,486.0 167.4,488.1 167.5,490.4 167.5,492.6 167.4,494.9 167.1,497.3 166.8,499.6 166.3,501.9 165.7,504.2 165.1,506.4 164.3,508.5 163.4,510.6 162.4,512.5 161.4,514.4 160.3,516.1 159.1,517.6 157.9,519.0 156.6,520.3 155.3,521.3 154.0,522.2 152.7,522.9 151.3,523.4 149.9,523.6 148.6,523.7 147.3,523.6 146.0,523.3 132.0,518.3 130.8,517.7 129.7,517.0 128.5,516.1 127.5,515.0 126.5,513.7 125.7,512.3 124.9,510.7 124.2,509.0 123.7,507.1 123.2,505.1 122.9,503.0 122.6,500.9 122.5,498.6" stroke="#000" stroke-width="1.6" fill="#151515" />
<ellipse cx="140.8" cy="493.0" rx="13.8" ry="25.8" transform="rotate(10 140.8 493.0)" stroke="#fff" stroke-width="3.4" fill="none" stroke-dasharray="3.2 1.8"/>
<ellipse cx="145.0" cy="494.5" rx="13.8" ry="25.8" transform="rotate(10 145.0 494.5)" stroke="#fff" stroke-width="3.4" fill="none" stroke-dasharray="3.2 1.8"/>
<ellipse cx="149.2" cy="496.0" rx="13.8" ry="25.8" transform="rotate(10 149.2 496.0)" stroke="#fff" stroke-width="3.4" fill="none" stroke-dasharray="3.2 1.8"/>
<ellipse cx="152.0" cy="497.0" rx="15.0" ry="27.0" transform="rotate(10 152.0 497.0)" stroke="#000" stroke-width="1.6" fill="#fff" />
<ellipse cx="153.0" cy="497.0" rx="10.0" ry="19.0" transform="rotate(10 153.0 497.0)" stroke="#000" stroke-width="1.2" fill="none" />
<polygon points="147.5,509.7 147.6,506.4 147.9,503.1 148.4,499.8 149.0,496.6 149.9,493.4 150.9,490.3 152.1,487.3 153.4,484.4 154.8,481.7 156.4,479.1 158.1,476.8 159.9,474.6 161.9,472.6 163.8,470.9 165.9,469.5 168.0,468.3 170.1,467.4 172.3,466.8 174.4,466.4 176.5,466.4 178.6,466.6 180.6,467.1 200.6,472.1 202.6,472.9 204.5,473.9 206.3,475.3 208.0,476.8 209.5,478.7 211.0,480.7 212.2,483.0 213.4,485.5 214.3,488.1 215.2,490.9 215.8,493.9 216.2,497.0 216.5,500.1 216.5,503.3 216.4,506.6 216.1,509.9 215.6,513.2 215.0,516.4 214.1,519.6 213.1,522.7 211.9,525.7 210.6,528.6 209.2,531.3 207.6,533.9 205.9,536.2 204.1,538.4 202.1,540.4 200.2,542.0 198.1,543.5 196.0,544.7 193.9,545.6 191.7,546.2 189.6,546.6 187.5,546.6 185.4,546.4 183.4,545.9 163.4,540.9 161.4,540.1 159.5,539.1 157.7,537.7 156.0,536.2 154.5,534.3 153.0,532.3 151.8,530.0 150.6,527.5 149.7,524.9 148.8,522.0 148.2,519.1 147.8,516.0 147.5,512.9" stroke="#000" stroke-width="1.6" fill="#151515" />
<ellipse cx="176.0" cy="505.0" rx="22.8" ry="36.8" transform="rotate(10 176.0 505.0)" stroke="#fff" stroke-width="3.4" fill="none" stroke-dasharray="3.2 1.8"/>
<ellipse cx="182.0" cy="506.5" rx="22.8" ry="36.8" transform="rotate(10 182.0 506.5)" stroke="#fff" stroke-width="3.4" fill="none" stroke-dasharray="3.2 1.8"/>
<ellipse cx="188.0" cy="508.0" rx="22.8" ry="36.8" transform="rotate(10 188.0 508.0)" stroke="#fff" stroke-width="3.4" fill="none" stroke-dasharray="3.2 1.8"/>
<path d="M222.6,513.9 L222.3,515.1 L222.1,516.4 L221.8,517.6 L218.6,517.9 L218.3,519.1 L218.0,520.2 L217.7,521.3 L220.0,523.6 L219.6,524.8 L219.2,525.9 L218.7,527.1 L215.6,526.7 L215.2,527.7 L214.7,528.7 L214.2,529.7 L216.0,532.5 L215.4,533.6 L214.8,534.6 L214.2,535.5 L211.4,534.4 L210.8,535.3 L210.2,536.1 L209.6,536.9 L210.8,540.1 L210.1,540.9 L209.3,541.7 L208.6,542.4 L206.3,540.6 L205.6,541.3 L204.9,541.9 L204.1,542.5 L204.7,545.8 L203.8,546.4 L203.0,546.9 L202.2,547.4 L200.4,545.0 L199.7,545.4 L198.9,545.8 L198.2,546.1 L198.0,549.4 L197.1,549.7 L196.2,549.9 L195.4,550.1 L194.3,547.3 L193.5,547.5 L192.8,547.6 L192.0,547.6 L191.1,550.6 L190.2,550.6 L189.4,550.6 L188.5,550.5 L188.2,547.4 L187.5,547.3 L186.8,547.1 L186.0,546.9 L184.4,549.5 L183.6,549.2 L182.9,548.8 L182.1,548.4 L182.5,545.3 L181.9,544.8 L181.2,544.4 L180.6,543.9 L178.4,545.9 L177.7,545.4 L177.0,544.7 L176.4,544.1 L177.6,541.0 L177.0,540.3 L176.5,539.6 L175.9,538.9 L173.3,540.3 L172.8,539.4 L172.3,538.6 L171.7,537.7 L173.6,534.9 L173.2,534.0 L172.8,533.1 L172.4,532.2 L169.5,532.8 L169.1,531.7 L168.8,530.7 L168.5,529.6 L170.9,527.2 L170.6,526.2 L170.4,525.2 L170.2,524.1 L167.2,523.9 L167.0,522.7 L166.9,521.5 L166.7,520.3 L169.6,518.6 L169.5,517.4 L169.5,516.3 L169.5,515.1 L166.5,514.2 L166.5,512.9 L166.6,511.7 L166.6,510.4 L169.7,509.3 L169.9,508.2 L170.0,507.0 L170.2,505.8 L167.4,504.1 L167.7,502.9 L167.9,501.6 L168.2,500.4 L171.4,500.1 L171.7,498.9 L172.0,497.8 L172.3,496.7 L170.0,494.4 L170.4,493.2 L170.8,492.1 L171.3,490.9 L174.4,491.3 L174.8,490.3 L175.3,489.3 L175.8,488.3 L174.0,485.5 L174.6,484.4 L175.2,483.4 L175.8,482.5 L178.6,483.6 L179.2,482.7 L179.8,481.9 L180.4,481.1 L179.2,477.9 L179.9,477.1 L180.7,476.3 L181.4,475.6 L183.7,477.4 L184.4,476.7 L185.1,476.1 L185.9,475.5 L185.3,472.2 L186.2,471.6 L187.0,471.1 L187.8,470.6 L189.6,473.0 L190.3,472.6 L191.1,472.2 L191.8,471.9 L192.0,468.6 L192.9,468.3 L193.8,468.1 L194.6,467.9 L195.7,470.7 L196.5,470.5 L197.2,470.4 L198.0,470.4 L198.9,467.4 L199.8,467.4 L200.6,467.4 L201.5,467.5 L201.8,470.6 L202.5,470.7 L203.2,470.9 L204.0,471.1 L205.6,468.5 L206.4,468.8 L207.1,469.2 L207.9,469.6 L207.5,472.7 L208.1,473.2 L208.8,473.6 L209.4,474.1 L211.6,472.1 L212.3,472.6 L213.0,473.3 L213.6,473.9 L212.4,477.0 L213.0,477.7 L213.5,478.4 L214.1,479.1 L216.7,477.7 L217.2,478.6 L217.7,479.4 L218.3,480.3 L216.4,483.1 L216.8,484.0 L217.2,484.9 L217.6,485.8 L220.5,485.2 L220.9,486.3 L221.2,487.3 L221.5,488.4 L219.1,490.8 L219.4,491.8 L219.6,492.8 L219.8,493.9 L222.8,494.1 L223.0,495.3 L223.1,496.5 L223.3,497.7 L220.4,499.4 L220.5,500.6 L220.5,501.7 L220.5,502.9 L223.5,503.8 L223.5,505.1 L223.4,506.3 L223.4,507.6 L220.3,508.7 L220.1,509.8 L220.0,511.0 L219.8,512.2 L222.6,513.9Z" stroke="#000" stroke-width="1.6" fill="#fff" />
<ellipse cx="196.0" cy="509.0" rx="20.0" ry="32.0" transform="rotate(10 196.0 509.0)" stroke="#000" stroke-width="1.2" fill="none" />
<ellipse cx="200.0" cy="515.0" rx="10.0" ry="13.5" transform="rotate(10 200.0 515.0)" stroke="#000" stroke-width="1.8" fill="#fff" />
<ellipse cx="201.0" cy="515.0" rx="6.0" ry="8.0" transform="rotate(10 201.0 515.0)" stroke="#000" stroke-width="1.6" fill="#fff" />
<ellipse cx="201.0" cy="515.0" rx="3.0" ry="4.0" transform="rotate(10 201.0 515.0)" stroke="#000" stroke-width="1.2" fill="#222" />
<polygon points="184.8,455.2 184.8,453.9 185.0,452.5 185.2,451.1 185.4,449.7 185.8,448.4 186.3,447.1 186.8,445.8 187.4,444.6 188.0,443.5 188.7,442.4 189.5,441.4 190.3,440.5 191.2,439.7 192.1,439.0 193.0,438.4 193.9,437.9 194.9,437.5 195.9,437.3 196.9,437.1 197.8,437.1 198.8,437.2 199.7,437.5 217.7,442.5 218.6,442.8 219.5,443.3 220.3,443.9 221.1,444.5 221.8,445.3 222.5,446.2 223.1,447.2 223.6,448.2 224.1,449.3 224.5,450.5 224.8,451.8 225.0,453.1 225.1,454.4 225.2,455.8 225.2,457.1 225.0,458.5 224.8,459.9 224.6,461.3 224.2,462.6 223.7,463.9 223.2,465.2 222.6,466.4 222.0,467.5 221.3,468.6 220.5,469.6 219.7,470.5 218.8,471.3 217.9,472.0 217.0,472.6 216.1,473.1 215.1,473.5 214.1,473.7 213.1,473.9 212.2,473.9 211.2,473.8 210.3,473.5 192.3,468.5 191.4,468.2 190.5,467.7 189.7,467.1 188.9,466.5 188.2,465.7 187.5,464.8 186.9,463.8 186.4,462.8 185.9,461.7 185.5,460.5 185.2,459.2 185.0,457.9 184.9,456.6" stroke="#000" stroke-width="2.0" fill="#fff" />
<ellipse cx="214.0" cy="458.0" rx="11.0" ry="16.0" transform="rotate(10 214.0 458.0)" stroke="#000" stroke-width="2.0" fill="#fff" />
<line x1="200.0" y1="441.0" x2="198.0" y2="468.0" stroke="#000" stroke-width="1.2" />
<line x1="203.5" y1="442.0" x2="201.5" y2="469.0" stroke="#000" stroke-width="1.2" />
<line x1="207.0" y1="443.0" x2="205.0" y2="470.0" stroke="#000" stroke-width="1.2" />
<line x1="210.5" y1="444.0" x2="208.5" y2="471.0" stroke="#000" stroke-width="1.2" />
<polygon points="205.7,476.1 205.9,472.7 206.2,469.4 206.8,466.1 207.6,462.8 208.5,459.6 209.6,456.6 210.9,453.6 212.4,450.8 214.0,448.2 215.7,445.7 217.6,443.5 219.6,441.5 221.6,439.7 223.8,438.2 226.0,436.9 228.2,435.9 230.5,435.2 232.8,434.8 235.1,434.7 237.4,434.9 239.6,435.3 254.6,439.3 256.8,440.1 258.8,441.1 260.8,442.4 262.7,444.0 264.5,445.8 266.2,447.9 267.6,450.1 269.0,452.6 270.2,455.3 271.2,458.1 272.0,461.1 272.6,464.2 273.0,467.4 273.3,470.6 273.3,473.9 273.1,477.3 272.8,480.6 272.2,483.9 271.4,487.2 270.5,490.4 269.4,493.4 268.1,496.4 266.6,499.2 265.0,501.8 263.3,504.3 261.4,506.5 259.4,508.5 257.4,510.3 255.2,511.8 253.0,513.1 250.8,514.1 248.5,514.8 246.2,515.2 243.9,515.3 241.6,515.1 239.4,514.7 224.4,510.7 222.2,509.9 220.2,508.9 218.2,507.6 216.3,506.0 214.5,504.2 212.8,502.1 211.3,499.9 210.0,497.4 208.8,494.7 207.8,491.9 207.0,488.9 206.4,485.8 206.0,482.6 205.7,479.4" stroke="#000" stroke-width="2.0" fill="#fff" />
<polygon points="220.6,513.3 213.3,508.0 225.3,511.2 232.6,516.5" stroke="#000" stroke-width="1.4" fill="#fff" />
<polygon points="210.4,504.3 205.7,494.7 217.7,497.9 222.4,507.5" stroke="#000" stroke-width="1.4" fill="#fff" />
<polygon points="204.3,489.5 203.1,477.5 215.1,480.7 216.3,492.7" stroke="#000" stroke-width="1.4" fill="#fff" />
<polygon points="203.4,471.6 205.8,459.3 217.8,462.5 215.4,474.8" stroke="#000" stroke-width="1.4" fill="#fff" />
<polygon points="207.8,453.9 213.5,443.8 225.5,447.0 219.8,457.1" stroke="#000" stroke-width="1.4" fill="#fff" />
<polygon points="216.8,439.8 224.6,433.7 236.6,436.9 228.8,443.0" stroke="#000" stroke-width="1.4" fill="#fff" />
<polygon points="227.6,432.3 236.2,430.9 248.2,434.1 239.6,435.5" stroke="#000" stroke-width="1.4" fill="#fff" />
<ellipse cx="247.0" cy="477.0" rx="26.0" ry="38.5" transform="rotate(8 247.0 477.0)" stroke="#000" stroke-width="2.0" fill="#fff" />
<ellipse cx="248.0" cy="478.0" rx="22.0" ry="31.0" transform="rotate(8 248.0 478.0)" stroke="#000" stroke-width="1.0" fill="none" />
<ellipse cx="252.0" cy="480.0" rx="14.0" ry="20.0" transform="rotate(8 252.0 480.0)" stroke="#000" stroke-width="1.6" fill="#fff" />
<ellipse cx="252.0" cy="480.0" rx="8.0" ry="11.0" transform="rotate(8 252.0 480.0)" stroke="#000" stroke-width="1.8" fill="#fff" />
<ellipse cx="252.0" cy="480.0" rx="4.5" ry="6.0" transform="rotate(8 252.0 480.0)" stroke="#000" stroke-width="1" fill="#111" />
<g transform="translate(977 70) rotate(-28)"><polygon points="-1,-6.5 22,-6.5 22,-11.5 39,0 22,11.5 22,6.5 -1,6.5" fill="#000"/></g>
<text x="0" y="0" font-size="17" font-weight="bold" style="stroke-width:0.8px" transform="translate(955 94) rotate(-28)">FR.</text>
<text x="195.5" y="117.5" font-size="16.5" text-anchor="middle">22</text>
<text x="291.0" y="35.4" font-size="16.5" text-anchor="middle">13</text>
<text x="322.0" y="49.0" font-size="16.5" text-anchor="middle">13</text>
<text x="354.0" y="64.4" font-size="16.5" text-anchor="middle">13</text>
<text x="234.5" y="137.0" font-size="16.5" text-anchor="middle">14</text>
<text x="234.5" y="155.0" font-size="16.5" text-anchor="middle">15</text>
<text x="268.0" y="158.0" font-size="16.5" text-anchor="middle">11</text>
<text x="299.0" y="176.0" font-size="16.5" text-anchor="middle">11</text>
<text x="333.0" y="192.0" font-size="16.5" text-anchor="middle">11</text>
<text x="381.0" y="185.0" font-size="16.5" text-anchor="middle">21</text>
<text x="406.5" y="199.0" font-size="16.5" text-anchor="middle">10</text>
<text x="441.0" y="218.5" font-size="16.5" text-anchor="middle">7</text>
<text x="473.5" y="248.0" font-size="16.5" text-anchor="middle">6</text>
<text x="501.0" y="266.0" font-size="16.5" text-anchor="middle">5</text>
<text x="527.0" y="280.0" font-size="16.5" text-anchor="middle">25</text>
<text x="580.0" y="183.0" font-size="16.5" text-anchor="middle">24</text>
<text x="564.0" y="129.0" font-size="16.5" text-anchor="middle">22</text>
<text x="632.5" y="27.8" font-size="16.5" text-anchor="middle">14</text>
<text x="632.5" y="44.0" font-size="16.5" text-anchor="middle">15</text>
<text x="678.7" y="51.8" font-size="16.5" text-anchor="middle">12</text>
<text x="710.0" y="65.7" font-size="16.5" text-anchor="middle">12</text>
<text x="743.0" y="80.8" font-size="16.5" text-anchor="middle">12</text>
<text x="623.0" y="158.8" font-size="16.5" text-anchor="middle">13</text>
<text x="653.5" y="172.6" font-size="16.5" text-anchor="middle">13</text>
<text x="682.0" y="188.0" font-size="16.5" text-anchor="middle">13</text>
<text x="751.0" y="200.0" font-size="16.5" text-anchor="middle">20</text>
<text x="790.0" y="130.0" font-size="16.5" text-anchor="middle">8</text>
<text x="827.0" y="141.7" font-size="16.5" text-anchor="middle">9</text>
<text x="903.0" y="149.5" font-size="16.5" text-anchor="middle">3</text>
<text x="904.5" y="167.0" font-size="16.5" text-anchor="middle">4</text>
<text x="940.4" y="182.0" font-size="16.5" text-anchor="middle">25</text>
<text x="943.6" y="294.0" font-size="16.5" text-anchor="middle">23</text>
<text x="993.0" y="198.0" font-size="16.5" text-anchor="middle">2</text>
<text x="854.0" y="73.0" font-size="16.5" text-anchor="middle">1</text>
<text x="607.0" y="321.5" font-size="16.5" text-anchor="middle">17</text>
<text x="648.5" y="323.0" font-size="16.5" text-anchor="middle">23</text>
<text x="674.0" y="350.5" font-size="16.5" text-anchor="middle">25</text>
<text x="697.0" y="361.0" font-size="16.5" text-anchor="middle">4</text>
<text x="761.0" y="376.7" font-size="16.5" text-anchor="middle">7</text>
<text x="792.5" y="388.0" font-size="16.5" text-anchor="middle">8</text>
<text x="819.0" y="398.2" font-size="16.5" text-anchor="middle">20</text>
<text x="842.8" y="426.0" font-size="16.5" text-anchor="middle">11</text>
<text x="872.0" y="442.0" font-size="16.5" text-anchor="middle">11</text>
<text x="906.7" y="458.0" font-size="16.5" text-anchor="middle">11</text>
<text x="898.8" y="323.0" font-size="16.5" text-anchor="middle">13</text>
<text x="928.4" y="336.7" font-size="16.5" text-anchor="middle">13</text>
<text x="960.7" y="350.4" font-size="16.5" text-anchor="middle">13</text>
<text x="936.5" y="469.6" font-size="16.5" text-anchor="middle">14</text>
<text x="936.5" y="488.0" font-size="16.5" text-anchor="middle">15</text>
<text x="998.5" y="499.0" font-size="16.5" text-anchor="middle">22</text>
<text x="641.0" y="398.2" font-size="16.5" text-anchor="middle">16</text>
<text x="54.5" y="123.7" font-size="16.5" text-anchor="middle">19</text>
<text x="101.7" y="171.7" font-size="16.5" text-anchor="middle">23</text>
<text x="139.5" y="171.7" font-size="16.5" text-anchor="middle">25</text>
<text x="140.0" y="297.0" font-size="16.5" text-anchor="middle">4</text>
<text x="241.0" y="230.0" font-size="16.5" text-anchor="middle">7</text>
<text x="276.0" y="243.0" font-size="16.5" text-anchor="middle">8</text>
<text x="304.0" y="263.0" font-size="16.5" text-anchor="middle">20</text>
<text x="340.3" y="262.0" font-size="16.5" text-anchor="middle">11</text>
<text x="390.0" y="277.4" font-size="16.5" text-anchor="middle">11</text>
<text x="419.0" y="291.0" font-size="16.5" text-anchor="middle">11</text>
<text x="459.4" y="308.3" font-size="16.5" text-anchor="middle">14</text>
<text x="493.5" y="325.4" font-size="16.5" text-anchor="middle">22</text>
<text x="327.5" y="388.8" font-size="16.5" text-anchor="middle">13</text>
<text x="359.0" y="406.0" font-size="16.5" text-anchor="middle">13</text>
<text x="391.7" y="419.7" font-size="16.5" text-anchor="middle">13</text>
<text x="482.0" y="496.0" font-size="16.5" text-anchor="middle">18</text>
<text x="136.5" y="371.6" font-size="16.5" text-anchor="middle">16</text>
<text x="67.5" y="533.5" font-size="16.5" text-anchor="middle">18</text>
<text x="237.5" y="543.0" font-size="16.5" text-anchor="middle">1</text>
<line x1="197.0" y1="87.0" x2="197.0" y2="102.0" stroke="#000" stroke-width="1.5" />
<line x1="381.0" y1="149.0" x2="381.0" y2="171.0" stroke="#000" stroke-width="1.5" />
<line x1="407.0" y1="168.0" x2="407.0" y2="184.0" stroke="#000" stroke-width="1.5" />
<line x1="442.0" y1="182.0" x2="442.0" y2="203.0" stroke="#000" stroke-width="1.5" />
<line x1="474.0" y1="215.0" x2="474.0" y2="233.0" stroke="#000" stroke-width="1.5" />
<line x1="500.0" y1="229.0" x2="500.0" y2="251.0" stroke="#000" stroke-width="1.5" />
<line x1="527.0" y1="239.0" x2="527.0" y2="265.0" stroke="#000" stroke-width="1.5" />
<line x1="564.0" y1="100.0" x2="564.0" y2="115.0" stroke="#000" stroke-width="1.5" />
<line x1="749.5" y1="166.0" x2="749.5" y2="185.0" stroke="#000" stroke-width="1.5" />
<line x1="790.0" y1="133.0" x2="790.0" y2="145.0" stroke="#000" stroke-width="1.5" />
<line x1="828.0" y1="145.0" x2="828.0" y2="161.0" stroke="#000" stroke-width="1.5" />
<line x1="904.0" y1="170.0" x2="904.0" y2="183.0" stroke="#000" stroke-width="1.5" />
<line x1="941.0" y1="185.0" x2="941.0" y2="199.0" stroke="#000" stroke-width="1.5" />
<line x1="944.0" y1="255.0" x2="944.0" y2="278.0" stroke="#000" stroke-width="1.5" />
<line x1="993.0" y1="201.0" x2="993.0" y2="222.0" stroke="#000" stroke-width="1.5" />
<line x1="853.5" y1="75.0" x2="853.5" y2="95.0" stroke="#000" stroke-width="1.5" />
<line x1="607.0" y1="283.0" x2="607.0" y2="306.0" stroke="#000" stroke-width="1.5" />
<line x1="649.0" y1="292.0" x2="649.0" y2="308.0" stroke="#000" stroke-width="1.5" />
<line x1="674.0" y1="316.0" x2="674.0" y2="335.0" stroke="#000" stroke-width="1.5" />
<line x1="698.0" y1="322.0" x2="698.0" y2="346.0" stroke="#000" stroke-width="1.5" />
<line x1="761.6" y1="337.0" x2="761.6" y2="362.0" stroke="#000" stroke-width="1.5" />
<line x1="793.0" y1="352.0" x2="793.0" y2="373.0" stroke="#000" stroke-width="1.5" />
<line x1="819.5" y1="358.0" x2="819.5" y2="383.0" stroke="#000" stroke-width="1.5" />
<line x1="641.0" y1="356.0" x2="641.0" y2="382.0" stroke="#000" stroke-width="1.5" />
<line x1="1000.0" y1="467.0" x2="1000.0" y2="484.0" stroke="#000" stroke-width="1.5" />
<line x1="55.0" y1="127.0" x2="55.0" y2="140.0" stroke="#000" stroke-width="1.5" />
<line x1="101.0" y1="175.0" x2="101.0" y2="188.0" stroke="#000" stroke-width="1.5" />
<line x1="138.0" y1="173.0" x2="138.0" y2="183.0" stroke="#000" stroke-width="1.5" />
<line x1="140.0" y1="262.0" x2="140.0" y2="281.0" stroke="#000" stroke-width="1.5" />
<line x1="241.0" y1="233.0" x2="241.0" y2="251.0" stroke="#000" stroke-width="1.5" />
<line x1="274.0" y1="247.0" x2="274.0" y2="263.0" stroke="#000" stroke-width="1.5" />
<line x1="305.0" y1="266.0" x2="305.0" y2="284.0" stroke="#000" stroke-width="1.5" />
<line x1="482.5" y1="454.0" x2="482.5" y2="480.0" stroke="#000" stroke-width="1.5" />
<line x1="68.0" y1="502.0" x2="68.0" y2="520.0" stroke="#000" stroke-width="1.5" />
<line x1="136.0" y1="375.0" x2="136.0" y2="392.0" stroke="#000" stroke-width="1.5" />
<line x1="238.0" y1="515.0" x2="238.0" y2="532.0" stroke="#000" stroke-width="1.5" />
<line x1="291.0" y1="38.0" x2="285.0" y2="50.0" stroke="#000" stroke-width="1.5" />
<line x1="322.0" y1="52.0" x2="316.0" y2="63.0" stroke="#000" stroke-width="1.5" />
<line x1="354.0" y1="67.0" x2="348.0" y2="78.0" stroke="#000" stroke-width="1.5" />
<line x1="268.0" y1="145.0" x2="268.0" y2="124.0" stroke="#000" stroke-width="1.5" />
<line x1="299.0" y1="163.0" x2="299.0" y2="140.0" stroke="#000" stroke-width="1.5" />
<line x1="333.0" y1="179.0" x2="333.0" y2="155.0" stroke="#000" stroke-width="1.5" />
<line x1="237.0" y1="123.0" x2="237.0" y2="106.0" stroke="#000" stroke-width="1.5" />
<line x1="678.7" y1="55.0" x2="672.0" y2="70.0" stroke="#000" stroke-width="1.5" />
<line x1="710.0" y1="69.0" x2="704.0" y2="84.0" stroke="#000" stroke-width="1.5" />
<line x1="743.0" y1="84.0" x2="737.0" y2="98.0" stroke="#000" stroke-width="1.5" />
<line x1="632.5" y1="47.0" x2="632.5" y2="56.0" stroke="#000" stroke-width="1.5" />
<line x1="623.0" y1="146.0" x2="629.0" y2="132.0" stroke="#000" stroke-width="1.5" />
<line x1="653.5" y1="160.0" x2="659.0" y2="146.0" stroke="#000" stroke-width="1.5" />
<line x1="682.0" y1="175.0" x2="688.0" y2="161.0" stroke="#000" stroke-width="1.5" />
<line x1="898.8" y1="326.0" x2="893.0" y2="338.0" stroke="#000" stroke-width="1.5" />
<line x1="928.4" y1="340.0" x2="922.0" y2="352.0" stroke="#000" stroke-width="1.5" />
<line x1="960.7" y1="353.0" x2="955.0" y2="366.0" stroke="#000" stroke-width="1.5" />
<line x1="842.8" y1="413.0" x2="842.8" y2="392.0" stroke="#000" stroke-width="1.5" />
<line x1="872.0" y1="429.0" x2="872.0" y2="408.0" stroke="#000" stroke-width="1.5" />
<line x1="906.7" y1="445.0" x2="906.7" y2="423.0" stroke="#000" stroke-width="1.5" />
<line x1="936.5" y1="457.0" x2="936.5" y2="436.0" stroke="#000" stroke-width="1.5" />
<line x1="340.3" y1="265.0" x2="340.3" y2="280.0" stroke="#000" stroke-width="1.5" />
<line x1="390.0" y1="280.0" x2="386.0" y2="294.0" stroke="#000" stroke-width="1.5" />
<line x1="419.0" y1="294.0" x2="415.0" y2="308.0" stroke="#000" stroke-width="1.5" />
<line x1="459.4" y1="311.0" x2="455.0" y2="326.0" stroke="#000" stroke-width="1.5" />
<line x1="327.5" y1="376.0" x2="333.0" y2="362.0" stroke="#000" stroke-width="1.5" />
<line x1="359.0" y1="393.0" x2="365.0" y2="379.0" stroke="#000" stroke-width="1.5" />
<line x1="391.7" y1="407.0" x2="397.0" y2="393.0" stroke="#000" stroke-width="1.5" />
<line x1="495.0" y1="329.0" x2="495.0" y2="348.0" stroke="#000" stroke-width="1.5" />
<line x1="580.0" y1="186.0" x2="566.0" y2="206.0" stroke="#000" stroke-width="1.5" />
<line x1="649.0" y1="292.0" x2="658.0" y2="281.0" stroke="#000" stroke-width="1.5" />
</svg></body></html>
